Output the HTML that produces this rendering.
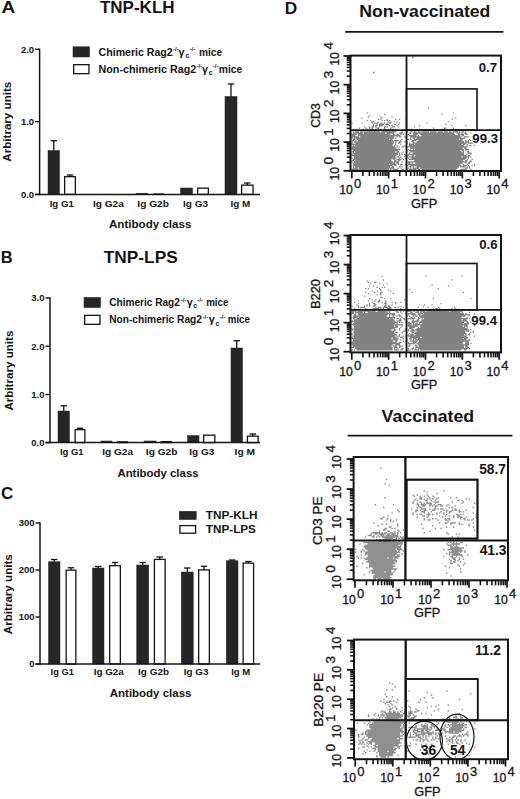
<!DOCTYPE html><html><head><meta charset="utf-8"><style>html,body{margin:0;padding:0;background:#fff}svg{display:block}</style></head><body><svg width="520" height="799" viewBox="0 0 520 799" font-family="Liberation Sans, sans-serif">
<rect width="520" height="799" fill="#fff"/>
<text x="1.5" y="12.9" font-size="16.9" font-weight="bold" text-anchor="start" textLength="13.7" lengthAdjust="spacingAndGlyphs" fill="#141414" >A</text>
<text x="99.9" y="12.6" font-size="16.5" font-weight="bold" text-anchor="start" textLength="74.7" lengthAdjust="spacingAndGlyphs" fill="#141414" >TNP-KLH</text>
<text x="0.8" y="263" font-size="16.5" font-weight="bold" text-anchor="start" fill="#141414" >B</text>
<text x="103.8" y="263.4" font-size="16.5" font-weight="bold" text-anchor="start" textLength="73.9" lengthAdjust="spacingAndGlyphs" fill="#141414" >TNP-LPS</text>
<text x="1.0" y="498.8" font-size="17" font-weight="bold" text-anchor="start" fill="#141414" >C</text>
<text x="284.8" y="13.8" font-size="17.2" font-weight="bold" text-anchor="start" fill="#141414" >D</text>
<line x1="53.75" y1="140.7" x2="53.75" y2="151.5" stroke="#141414" stroke-width="1.3"/>
<line x1="50.55" y1="140.7" x2="56.95" y2="140.7" stroke="#141414" stroke-width="1.3"/>
<rect x="48" y="150.5" width="11.5" height="43.9" fill="#262626" stroke="#262626" stroke-width="0.5"/>
<line x1="70.0" y1="175" x2="70.0" y2="177" stroke="#141414" stroke-width="1.3"/>
<line x1="66.8" y1="175" x2="73.2" y2="175" stroke="#141414" stroke-width="1.3"/>
<rect x="64.65" y="176.65" width="10.7" height="17.75" fill="#fff" stroke="#141414" stroke-width="1.3"/>
<rect x="136" y="193.2" width="11.5" height="1.2" fill="#262626" stroke="#262626" stroke-width="0.5"/>
<rect x="153.65" y="194.05" width="9.7" height="0.35" fill="#fff" stroke="#141414" stroke-width="1.3"/>
<rect x="180.5" y="188" width="12.0" height="6.4" fill="#262626" stroke="#262626" stroke-width="0.5"/>
<rect x="197.65" y="188.15" width="10.7" height="6.25" fill="#fff" stroke="#141414" stroke-width="1.3"/>
<line x1="231.0" y1="84" x2="231.0" y2="97.5" stroke="#141414" stroke-width="1.3"/>
<line x1="227.8" y1="84" x2="234.2" y2="84" stroke="#141414" stroke-width="1.3"/>
<rect x="225" y="96.5" width="12" height="97.9" fill="#262626" stroke="#262626" stroke-width="0.5"/>
<line x1="247.35" y1="183" x2="247.35" y2="185.5" stroke="#141414" stroke-width="1.3"/>
<line x1="244.15" y1="183" x2="250.54999999999998" y2="183" stroke="#141414" stroke-width="1.3"/>
<rect x="241.65" y="185.15" width="11.4" height="9.25" fill="#fff" stroke="#141414" stroke-width="1.3"/>
<line x1="39.6" y1="48.599999999999994" x2="39.6" y2="195.1" stroke="#141414" stroke-width="1.5"/>
<line x1="35.1" y1="194.4" x2="260" y2="194.4" stroke="#141414" stroke-width="1.5"/>
<line x1="35.1" y1="49.3" x2="39.6" y2="49.3" stroke="#141414" stroke-width="1.4"/>
<text x="34.1" y="52.699999999999996" font-size="9.5" font-weight="bold" text-anchor="end" fill="#141414" >2.0</text>
<line x1="35.1" y1="121.6" x2="39.6" y2="121.6" stroke="#141414" stroke-width="1.4"/>
<text x="34.1" y="125.0" font-size="9.5" font-weight="bold" text-anchor="end" fill="#141414" >1.0</text>
<line x1="35.1" y1="194.4" x2="39.6" y2="194.4" stroke="#141414" stroke-width="1.4"/>
<text x="34.1" y="197.8" font-size="9.5" font-weight="bold" text-anchor="end" fill="#141414" >0.0</text>
<text x="49.7" y="207" font-size="9.5" font-weight="bold" text-anchor="start" textLength="24.1" lengthAdjust="spacingAndGlyphs" fill="#141414" >Ig G1</text>
<text x="92.9" y="207" font-size="9.5" font-weight="bold" text-anchor="start" textLength="30.9" lengthAdjust="spacingAndGlyphs" fill="#141414" >Ig G2a</text>
<text x="137.3" y="207" font-size="9.5" font-weight="bold" text-anchor="start" textLength="31.7" lengthAdjust="spacingAndGlyphs" fill="#141414" >Ig G2b</text>
<text x="183" y="207" font-size="9.5" font-weight="bold" text-anchor="start" textLength="25" lengthAdjust="spacingAndGlyphs" fill="#141414" >Ig G3</text>
<text x="230.4" y="207" font-size="9.5" font-weight="bold" text-anchor="start" textLength="19.8" lengthAdjust="spacingAndGlyphs" fill="#141414" >Ig M</text>
<text x="109" y="227.7" font-size="10.5" font-weight="bold" text-anchor="start" textLength="82.4" lengthAdjust="spacingAndGlyphs" fill="#141414" >Antibody class</text>
<text transform="translate(11.1,121.7) rotate(-90)" font-size="10.5" font-weight="bold" text-anchor="middle" textLength="80" lengthAdjust="spacingAndGlyphs" fill="#141414">Arbitrary units</text>
<rect x="73" y="46.8" width="16.6" height="10.2" fill="#262626" stroke="#262626" stroke-width="0.5"/>
<rect x="73.65" y="64.65" width="15.3" height="9.0" fill="#fff" stroke="#141414" stroke-width="1.3"/>
<text x="98.6" y="55.8" font-size="10.4" font-weight="bold" text-anchor="start" textLength="74.1" lengthAdjust="spacingAndGlyphs" fill="#141414" >Chimeric Rag2</text>
<text x="172.9" y="51.199999999999996" font-size="6.2" font-weight="bold" text-anchor="start" fill="#141414" >-/-</text>
<text x="178.6" y="55.8" font-size="10.8" font-weight="bold" text-anchor="start" fill="#141414" >γ</text>
<text x="185.6" y="58.0" font-size="6.8" font-weight="bold" text-anchor="start" fill="#141414" >c</text>
<text x="189.8" y="51.199999999999996" font-size="6.2" font-weight="bold" text-anchor="start" fill="#141414" >-/-</text>
<text x="199" y="55.8" font-size="10.4" font-weight="bold" text-anchor="start" textLength="23.1" lengthAdjust="spacingAndGlyphs" fill="#141414" >mice</text>
<text x="98.6" y="73.0" font-size="10.4" font-weight="bold" text-anchor="start" textLength="97.6" lengthAdjust="spacingAndGlyphs" fill="#141414" >Non-chimeric Rag2</text>
<text x="196.4" y="68.4" font-size="6.2" font-weight="bold" text-anchor="start" fill="#141414" >-/-</text>
<text x="202.1" y="73.0" font-size="10.8" font-weight="bold" text-anchor="start" fill="#141414" >γ</text>
<text x="208.8" y="75.2" font-size="6.8" font-weight="bold" text-anchor="start" fill="#141414" >c</text>
<text x="212.8" y="68.4" font-size="6.2" font-weight="bold" text-anchor="start" fill="#141414" >-/-</text>
<text x="218.8" y="73.0" font-size="10.4" font-weight="bold" text-anchor="start" textLength="23.5" lengthAdjust="spacingAndGlyphs" fill="#141414" >mice</text>
<line x1="63.75" y1="405.75" x2="63.75" y2="412" stroke="#141414" stroke-width="1.3"/>
<line x1="60.55" y1="405.75" x2="66.95" y2="405.75" stroke="#141414" stroke-width="1.3"/>
<rect x="58" y="411" width="11.5" height="31.6" fill="#262626" stroke="#262626" stroke-width="0.5"/>
<line x1="80.0" y1="428.3" x2="80.0" y2="430" stroke="#141414" stroke-width="1.3"/>
<line x1="76.8" y1="428.3" x2="83.2" y2="428.3" stroke="#141414" stroke-width="1.3"/>
<rect x="75.15" y="429.65" width="9.7" height="12.95" fill="#fff" stroke="#141414" stroke-width="1.3"/>
<rect x="101" y="441" width="11" height="1.6" fill="#262626" stroke="#262626" stroke-width="0.5"/>
<rect x="117.65" y="441.85" width="9.7" height="0.75" fill="#fff" stroke="#141414" stroke-width="1.3"/>
<rect x="144" y="441" width="12" height="1.6" fill="#262626" stroke="#262626" stroke-width="0.5"/>
<rect x="161.15" y="441.65" width="10.2" height="0.95" fill="#fff" stroke="#141414" stroke-width="1.3"/>
<rect x="187.5" y="435.5" width="11.5" height="7.1" fill="#262626" stroke="#262626" stroke-width="0.5"/>
<rect x="203.65" y="435.15" width="11.2" height="7.45" fill="#fff" stroke="#141414" stroke-width="1.3"/>
<line x1="236.75" y1="340.75" x2="236.75" y2="349" stroke="#141414" stroke-width="1.3"/>
<line x1="233.55" y1="340.75" x2="239.95" y2="340.75" stroke="#141414" stroke-width="1.3"/>
<rect x="231" y="348" width="11.5" height="94.6" fill="#262626" stroke="#262626" stroke-width="0.5"/>
<line x1="252.75" y1="434" x2="252.75" y2="436.5" stroke="#141414" stroke-width="1.3"/>
<line x1="249.55" y1="434" x2="255.95" y2="434" stroke="#141414" stroke-width="1.3"/>
<rect x="247.4" y="436.15" width="10.7" height="6.45" fill="#fff" stroke="#141414" stroke-width="1.3"/>
<line x1="50" y1="297.3" x2="50" y2="443.3" stroke="#141414" stroke-width="1.5"/>
<line x1="45.5" y1="442.6" x2="260" y2="442.6" stroke="#141414" stroke-width="1.5"/>
<line x1="45.5" y1="298" x2="50" y2="298" stroke="#141414" stroke-width="1.4"/>
<text x="44.5" y="301.4" font-size="9.5" font-weight="bold" text-anchor="end" fill="#141414" >3.0</text>
<line x1="45.5" y1="346.25" x2="50" y2="346.25" stroke="#141414" stroke-width="1.4"/>
<text x="44.5" y="349.65" font-size="9.5" font-weight="bold" text-anchor="end" fill="#141414" >2.0</text>
<line x1="45.5" y1="394.5" x2="50" y2="394.5" stroke="#141414" stroke-width="1.4"/>
<text x="44.5" y="397.9" font-size="9.5" font-weight="bold" text-anchor="end" fill="#141414" >1.0</text>
<line x1="45.5" y1="442.6" x2="50" y2="442.6" stroke="#141414" stroke-width="1.4"/>
<text x="44.5" y="446.0" font-size="9.5" font-weight="bold" text-anchor="end" fill="#141414" >0.0</text>
<text x="59.9" y="455.4" font-size="9.5" font-weight="bold" text-anchor="start" textLength="23.7" lengthAdjust="spacingAndGlyphs" fill="#141414" >Ig G1</text>
<text x="102.2" y="455.4" font-size="9.5" font-weight="bold" text-anchor="start" textLength="30.8" lengthAdjust="spacingAndGlyphs" fill="#141414" >Ig G2a</text>
<text x="145.8" y="455.4" font-size="9.5" font-weight="bold" text-anchor="start" textLength="31.7" lengthAdjust="spacingAndGlyphs" fill="#141414" >Ig G2b</text>
<text x="189.3" y="455.4" font-size="9.5" font-weight="bold" text-anchor="start" textLength="25.0" lengthAdjust="spacingAndGlyphs" fill="#141414" >Ig G3</text>
<text x="234.6" y="455.4" font-size="9.5" font-weight="bold" text-anchor="start" textLength="20.3" lengthAdjust="spacingAndGlyphs" fill="#141414" >Ig M</text>
<text x="117.4" y="476.6" font-size="10.5" font-weight="bold" text-anchor="start" textLength="81.2" lengthAdjust="spacingAndGlyphs" fill="#141414" >Antibody class</text>
<text transform="translate(13.2,370.6) rotate(-90)" font-size="10.5" font-weight="bold" text-anchor="middle" textLength="80" lengthAdjust="spacingAndGlyphs" fill="#141414">Arbitrary units</text>
<rect x="84" y="297.4" width="16.6" height="10.2" fill="#262626" stroke="#262626" stroke-width="0.5"/>
<rect x="84.65" y="315.35" width="15.3" height="9.0" fill="#fff" stroke="#141414" stroke-width="1.3"/>
<text x="109.2" y="306.1" font-size="10.4" font-weight="bold" text-anchor="start" textLength="70.6" lengthAdjust="spacingAndGlyphs" fill="#141414" >Chimeric Rag2</text>
<text x="180.6" y="301.5" font-size="6.2" font-weight="bold" text-anchor="start" fill="#141414" >-/-</text>
<text x="186.8" y="306.1" font-size="10.8" font-weight="bold" text-anchor="start" fill="#141414" >γ</text>
<text x="193.2" y="308.3" font-size="6.8" font-weight="bold" text-anchor="start" fill="#141414" >c</text>
<text x="197.3" y="301.5" font-size="6.2" font-weight="bold" text-anchor="start" fill="#141414" >-/-</text>
<text x="206.2" y="306.1" font-size="10.4" font-weight="bold" text-anchor="start" textLength="22.1" lengthAdjust="spacingAndGlyphs" fill="#141414" >mice</text>
<text x="109.2" y="323.4" font-size="10.4" font-weight="bold" text-anchor="start" textLength="92.8" lengthAdjust="spacingAndGlyphs" fill="#141414" >Non-chimeric Rag2</text>
<text x="202.5" y="318.79999999999995" font-size="6.2" font-weight="bold" text-anchor="start" fill="#141414" >-/-</text>
<text x="208.8" y="323.4" font-size="10.8" font-weight="bold" text-anchor="start" fill="#141414" >γ</text>
<text x="215.4" y="325.59999999999997" font-size="6.8" font-weight="bold" text-anchor="start" fill="#141414" >c</text>
<text x="219.4" y="318.79999999999995" font-size="6.2" font-weight="bold" text-anchor="start" fill="#141414" >-/-</text>
<text x="227.7" y="323.4" font-size="10.4" font-weight="bold" text-anchor="start" textLength="22.3" lengthAdjust="spacingAndGlyphs" fill="#141414" >mice</text>
<line x1="54.25" y1="559.5" x2="54.25" y2="562.75" stroke="#141414" stroke-width="1.3"/>
<line x1="51.05" y1="559.5" x2="57.45" y2="559.5" stroke="#141414" stroke-width="1.3"/>
<rect x="48.5" y="561.75" width="11.5" height="102.25" fill="#262626" stroke="#262626" stroke-width="0.5"/>
<line x1="71.0" y1="567.75" x2="71.0" y2="570.5" stroke="#141414" stroke-width="1.3"/>
<line x1="67.8" y1="567.75" x2="74.2" y2="567.75" stroke="#141414" stroke-width="1.3"/>
<rect x="66.15" y="570.15" width="9.7" height="93.85" fill="#fff" stroke="#141414" stroke-width="1.3"/>
<line x1="98.25" y1="566.5" x2="98.25" y2="569" stroke="#141414" stroke-width="1.3"/>
<line x1="95.05" y1="566.5" x2="101.45" y2="566.5" stroke="#141414" stroke-width="1.3"/>
<rect x="92.5" y="568" width="11.5" height="96" fill="#262626" stroke="#262626" stroke-width="0.5"/>
<line x1="115.0" y1="562.5" x2="115.0" y2="566" stroke="#141414" stroke-width="1.3"/>
<line x1="111.8" y1="562.5" x2="118.2" y2="562.5" stroke="#141414" stroke-width="1.3"/>
<rect x="109.65" y="565.65" width="10.7" height="98.35" fill="#fff" stroke="#141414" stroke-width="1.3"/>
<line x1="142.75" y1="562.5" x2="142.75" y2="566" stroke="#141414" stroke-width="1.3"/>
<line x1="139.55" y1="562.5" x2="145.95" y2="562.5" stroke="#141414" stroke-width="1.3"/>
<rect x="136.75" y="565" width="12.0" height="99" fill="#262626" stroke="#262626" stroke-width="0.5"/>
<line x1="159.75" y1="557" x2="159.75" y2="559.75" stroke="#141414" stroke-width="1.3"/>
<line x1="156.55" y1="557" x2="162.95" y2="557" stroke="#141414" stroke-width="1.3"/>
<rect x="154.4" y="559.4" width="10.7" height="104.6" fill="#fff" stroke="#141414" stroke-width="1.3"/>
<line x1="187.25" y1="568" x2="187.25" y2="573" stroke="#141414" stroke-width="1.3"/>
<line x1="184.05" y1="568" x2="190.45" y2="568" stroke="#141414" stroke-width="1.3"/>
<rect x="181.25" y="572" width="12.0" height="92" fill="#262626" stroke="#262626" stroke-width="0.5"/>
<line x1="204.0" y1="566.25" x2="204.0" y2="570.25" stroke="#141414" stroke-width="1.3"/>
<line x1="200.8" y1="566.25" x2="207.2" y2="566.25" stroke="#141414" stroke-width="1.3"/>
<rect x="198.65" y="569.9" width="10.7" height="94.1" fill="#fff" stroke="#141414" stroke-width="1.3"/>
<line x1="232.125" y1="560" x2="232.125" y2="561.75" stroke="#141414" stroke-width="1.3"/>
<line x1="228.925" y1="560" x2="235.325" y2="560" stroke="#141414" stroke-width="1.3"/>
<rect x="226.25" y="560.75" width="11.75" height="103.25" fill="#262626" stroke="#262626" stroke-width="0.5"/>
<line x1="248.375" y1="561.5" x2="248.375" y2="563.5" stroke="#141414" stroke-width="1.3"/>
<line x1="245.175" y1="561.5" x2="251.575" y2="561.5" stroke="#141414" stroke-width="1.3"/>
<rect x="243.15" y="563.15" width="10.45" height="100.85" fill="#fff" stroke="#141414" stroke-width="1.3"/>
<line x1="40" y1="522.3" x2="40" y2="664.7" stroke="#141414" stroke-width="1.5"/>
<line x1="35.5" y1="664" x2="260" y2="664" stroke="#141414" stroke-width="1.5"/>
<line x1="35.5" y1="523" x2="40" y2="523" stroke="#141414" stroke-width="1.4"/>
<text x="34.5" y="526.4" font-size="9.5" font-weight="bold" text-anchor="end" fill="#141414" >300</text>
<line x1="35.5" y1="570" x2="40" y2="570" stroke="#141414" stroke-width="1.4"/>
<text x="34.5" y="573.4" font-size="9.5" font-weight="bold" text-anchor="end" fill="#141414" >200</text>
<line x1="35.5" y1="617" x2="40" y2="617" stroke="#141414" stroke-width="1.4"/>
<text x="34.5" y="620.4" font-size="9.5" font-weight="bold" text-anchor="end" fill="#141414" >100</text>
<line x1="35.5" y1="664" x2="40" y2="664" stroke="#141414" stroke-width="1.4"/>
<text x="34.5" y="667.4" font-size="9.5" font-weight="bold" text-anchor="end" fill="#141414" >0</text>
<text x="50.6" y="675.4" font-size="9.5" font-weight="bold" text-anchor="start" textLength="23.2" lengthAdjust="spacingAndGlyphs" fill="#141414" >Ig G1</text>
<text x="93.7" y="675.4" font-size="9.5" font-weight="bold" text-anchor="start" textLength="30.1" lengthAdjust="spacingAndGlyphs" fill="#141414" >Ig G2a</text>
<text x="138.1" y="675.4" font-size="9.5" font-weight="bold" text-anchor="start" textLength="30.9" lengthAdjust="spacingAndGlyphs" fill="#141414" >Ig G2b</text>
<text x="183.8" y="675.4" font-size="9.5" font-weight="bold" text-anchor="start" textLength="24.6" lengthAdjust="spacingAndGlyphs" fill="#141414" >Ig G3</text>
<text x="231.2" y="675.4" font-size="9.5" font-weight="bold" text-anchor="start" textLength="19.0" lengthAdjust="spacingAndGlyphs" fill="#141414" >Ig M</text>
<text x="109.8" y="696.6" font-size="10.5" font-weight="bold" text-anchor="start" textLength="81.6" lengthAdjust="spacingAndGlyphs" fill="#141414" >Antibody class</text>
<text transform="translate(11.7,594.2) rotate(-90)" font-size="10.5" font-weight="bold" text-anchor="middle" textLength="80" lengthAdjust="spacingAndGlyphs" fill="#141414">Arbitrary units</text>
<rect x="179.25" y="511.25" width="17" height="8.3" fill="#262626" stroke="#262626" stroke-width="0.5"/>
<rect x="179.9" y="525.6" width="15.7" height="7.6" fill="#fff" stroke="#141414" stroke-width="1.3"/>
<text x="205.75" y="519.3" font-size="10.8" font-weight="bold" text-anchor="start" textLength="51.8" lengthAdjust="spacingAndGlyphs" fill="#141414" >TNP-KLH</text>
<text x="205.75" y="533.1" font-size="10.8" font-weight="bold" text-anchor="start" textLength="50.2" lengthAdjust="spacingAndGlyphs" fill="#141414" >TNP-LPS</text>
<text x="359.2" y="17.3" font-size="16.8" font-weight="bold" text-anchor="start" textLength="131.2" lengthAdjust="spacingAndGlyphs" fill="#141414" >Non-vaccinated</text>
<line x1="345.2" y1="31.8" x2="503.4" y2="31.8" stroke="#141414" stroke-width="1.7"/>
<text x="381.6" y="421.8" font-size="16.8" font-weight="bold" text-anchor="start" textLength="92.6" lengthAdjust="spacingAndGlyphs" fill="#141414" >Vaccinated</text>
<line x1="347.6" y1="435.7" x2="512.4" y2="435.7" stroke="#141414" stroke-width="1.7"/>
<path d="M427.8 108.1h1.2M366.5 113.1h1.2M452.8 113.1h1.2M384 114.4h1.2M441.5 114.4h1.2M369 115.6h1.2M367.8 116.9h1.2M380.2 116.9h1.2M391.5 116.9h1.2M361.5 118.1h1.2M381.5 118.1h1.2M455.2 118.1h1.2M377.8 119.4h1.2M380.2 119.4h1.2M386.5 119.4h1.2M395.2 119.4h1.2M399 119.4h1.2M451.5 119.4h1.2M366.5 120.6h1.2M370.2 120.6h1.2M381.5 120.6h1.2M384 120.6h1.2M386.5 120.6h1.2M389 120.6h1.2M371.5 121.9h2.5M377.8 121.9h1.2M387.8 121.9h1.2M390.2 121.9h1.2M394 121.9h1.2M396.5 121.9h1.2M447.8 121.9h1.2M351.5 123.1h1.2M361.5 123.1h1.2M371.5 123.1h1.2M374 123.1h3.8M380.2 123.1h2.5M384 123.1h1.2M386.5 123.1h1.2M389 123.1h2.5M399 123.1h1.2M426.5 123.1h1.2M372.8 124.4h1.2M376.5 124.4h1.2M379 124.4h5M385.2 124.4h3.8M394 124.4h2.5M397.8 124.4h1.2M445.2 124.4h1.2M372.8 125.6h1.2M375.2 125.6h2.5M379 125.6h3.8M389 125.6h1.2M391.5 125.6h1.2M396.5 125.6h1.2M419 125.6h1.2M451.5 125.6h1.2M465.2 125.6h1.2M364 126.9h1.2M369 126.9h1.2M371.5 126.9h2.5M375.2 126.9h1.2M379 126.9h1.2M384 126.9h3.8M391.5 126.9h3.8M397.8 126.9h1.2M414 126.9h1.2M359 128.1h1.2M365.2 128.1h1.2M369 128.1h1.2M371.5 128.1h1.2M376.5 128.1h2.5M384 128.1h1.2M390.2 128.1h1.2M432.8 128.1h1.2M444 128.1h2.5M452.8 128.1h1.2M362.8 129.4h1.2M366.5 129.4h1.2M370.2 129.4h3.8M375.2 129.4h1.2M377.8 129.4h1.2M380.2 129.4h1.2M382.8 129.4h3.8M390.2 129.4h3.8M395.2 129.4h1.2M411.5 129.4h1.2M441.5 129.4h1.2M444 129.4h1.2M465.2 129.4h1.2M355.2 130.6h1.2M360.2 130.6h1.2M369 130.6h1.2M374 130.6h2.5M377.8 130.6h1.2M381.5 130.6h2.5M385.2 130.6h2.5M389 130.6h1.2M392.8 130.6h1.2M400.2 130.6h2.5M406.5 130.6h1.2M420.2 130.6h1.2M436.5 130.6h1.2M451.5 130.6h1.2M456.5 130.6h2.5M352.8 131.9h1.2M355.2 131.9h3.8M360.2 131.9h20M381.5 131.9h15M401.5 131.9h1.2M406.5 131.9h1.2M410.2 131.9h2.5M414 131.9h2.5M417.8 131.9h2.5M421.5 131.9h7.5M430.2 131.9h6.2M437.8 131.9h5M444 131.9h3.8M449 131.9h2.5M452.8 131.9h5M459 131.9h1.2M461.5 131.9h2.5M465.2 131.9h1.2M352.8 133.1h10M364 133.1h21.2M386.5 133.1h7.5M399 133.1h3.8M409 133.1h2.5M412.8 133.1h41.2M456.5 133.1h3.8M461.5 133.1h1.2M464 133.1h2.5M470.2 133.1h1.2M351.5 134.4h5M357.8 134.4h32.5M392.8 134.4h2.5M396.5 134.4h2.5M400.2 134.4h1.2M402.8 134.4h1.2M407.8 134.4h1.2M412.8 134.4h5M420.2 134.4h35M457.8 134.4h6.2M465.2 134.4h2.5M351.5 135.6h3.8M357.8 135.6h42.5M406.5 135.6h1.2M409 135.6h7.5M417.8 135.6h1.2M421.5 135.6h38.8M461.5 135.6h2.5M351.5 136.9h7.5M360.2 136.9h33.8M396.5 136.9h1.2M399 136.9h2.5M404 136.9h2.5M410.2 136.9h51.2M464 136.9h5M351.5 138.1h1.2M354 138.1h40M395.2 138.1h1.2M410.2 138.1h1.2M412.8 138.1h2.5M416.5 138.1h48.8M352.8 139.4h2.5M356.5 139.4h32.5M390.2 139.4h2.5M401.5 139.4h1.2M406.5 139.4h2.5M410.2 139.4h1.2M414 139.4h45M460.2 139.4h2.5M469 139.4h1.2M351.5 140.6h2.5M355.2 140.6h1.2M357.8 140.6h35M394 140.6h5M400.2 140.6h1.2M411.5 140.6h5M417.8 140.6h45M465.2 140.6h1.2M467.8 140.6h1.2M470.2 140.6h1.2M351.5 141.9h1.2M354 141.9h40M395.2 141.9h1.2M399 141.9h2.5M404 141.9h1.2M406.5 141.9h1.2M411.5 141.9h2.5M416.5 141.9h47.5M465.2 141.9h3.8M351.5 143.1h1.2M355.2 143.1h38.8M395.2 143.1h1.2M397.8 143.1h2.5M406.5 143.1h1.2M409 143.1h1.2M412.8 143.1h53.8M467.8 143.1h5M351.5 144.4h41.2M395.2 144.4h1.2M400.2 144.4h1.2M409 144.4h5M415.2 144.4h46.2M462.8 144.4h2.5M466.5 144.4h1.2M352.8 145.6h1.2M355.2 145.6h37.5M394 145.6h1.2M396.5 145.6h1.2M404 145.6h1.2M409 145.6h55M466.5 145.6h1.2M469 145.6h2.5M474 145.6h1.2M351.5 146.9h43.8M396.5 146.9h1.2M399 146.9h1.2M401.5 146.9h2.5M405.2 146.9h62.5M351.5 148.1h45M410.2 148.1h52.5M464 148.1h2.5M351.5 149.4h48.8M407.8 149.4h1.2M410.2 149.4h1.2M412.8 149.4h1.2M415.2 149.4h48.8M465.2 149.4h3.8M352.8 150.6h45M406.5 150.6h1.2M409 150.6h51.2M461.5 150.6h2.5M465.2 150.6h1.2M467.8 150.6h1.2M351.5 151.9h2.5M355.2 151.9h40M396.5 151.9h2.5M402.8 151.9h1.2M410.2 151.9h51.2M462.8 151.9h1.2M466.5 151.9h2.5M352.8 153.1h45M399 153.1h1.2M401.5 153.1h1.2M409 153.1h1.2M412.8 153.1h51.2M467.8 153.1h3.8M351.5 154.4h1.2M354 154.4h43.8M399 154.4h1.2M401.5 154.4h1.2M404 154.4h1.2M407.8 154.4h56.2M466.5 154.4h1.2M470.2 154.4h1.2M351.5 155.6h45M399 155.6h1.2M405.2 155.6h3.8M411.5 155.6h2.5M415.2 155.6h51.2M467.8 155.6h2.5M354 156.9h41.2M396.5 156.9h2.5M400.2 156.9h1.2M404 156.9h1.2M406.5 156.9h1.2M409 156.9h52.5M462.8 156.9h6.2M470.2 156.9h1.2M351.5 158.1h1.2M354 158.1h42.5M399 158.1h1.2M401.5 158.1h1.2M405.2 158.1h1.2M407.8 158.1h1.2M411.5 158.1h55M467.8 158.1h1.2M352.8 159.4h38.8M392.8 159.4h2.5M396.5 159.4h5M402.8 159.4h1.2M409 159.4h56.2M466.5 159.4h1.2M471.5 159.4h1.2M351.5 160.6h2.5M355.2 160.6h36.2M394 160.6h2.5M397.8 160.6h2.5M414 160.6h48.8M465.2 160.6h2.5M470.2 160.6h1.2M351.5 161.9h1.2M354 161.9h38.8M394 161.9h5M401.5 161.9h1.2M407.8 161.9h58.8M469 161.9h2.5M352.8 163.1h42.5M396.5 163.1h2.5M407.8 163.1h2.5M411.5 163.1h1.2M415.2 163.1h47.5M465.2 163.1h1.2M467.8 163.1h2.5M352.8 164.4h36.2M390.2 164.4h6.2M397.8 164.4h1.2M400.2 164.4h2.5M405.2 164.4h1.2M407.8 164.4h52.5M462.8 164.4h1.2M466.5 164.4h1.2M474 164.4h1.2M352.8 165.6h40M394 165.6h2.5M400.2 165.6h1.2M406.5 165.6h1.2M410.2 165.6h51.2M462.8 165.6h3.8M467.8 165.6h1.2M471.5 165.6h1.2M474 165.6h1.2M352.8 166.9h1.2M355.2 166.9h35M391.5 166.9h2.5M399 166.9h1.2M401.5 166.9h1.2M409 166.9h2.5M412.8 166.9h1.2M416.5 166.9h42.5M460.2 166.9h5M466.5 166.9h1.2M469 166.9h1.2M352.8 168.1h5M359 168.1h35M397.8 168.1h1.2M400.2 168.1h1.2M407.8 168.1h1.2M410.2 168.1h1.2M412.8 168.1h6.2M420.2 168.1h37.5M465.2 168.1h2.5M469 168.1h1.2M351.5 169.4h37.5M390.2 169.4h1.2M392.8 169.4h5M401.5 169.4h2.5M406.5 169.4h1.2M409 169.4h7.5M417.8 169.4h2.5M421.5 169.4h35M460.2 169.4h6.2M470.2 169.4h1.2" stroke="#828282" stroke-width="1.35" fill="none"/><path d="M373 72.5h1.5M412 57.5h1.5" stroke="#828282" stroke-width="1.4"/>
<rect x="350.5" y="55.6" width="150.5" height="115.4" fill="none" stroke="#141414" stroke-width="2"/>
<line x1="406.5" y1="55.6" x2="406.5" y2="171" stroke="#141414" stroke-width="1.8"/>
<line x1="350.5" y1="130.2" x2="501" y2="130.2" stroke="#141414" stroke-width="1.8"/>
<rect x="406.5" y="88.9" width="70.5" height="41.29999999999998" fill="none" stroke="#141414" stroke-width="1.6"/>
<g stroke="#141414" stroke-width="0.3">
<line x1="351.8" y1="171" x2="351.8" y2="178.4" stroke="#141414" stroke-width="1.7"/>
<line x1="343.5" y1="170.8" x2="350.5" y2="170.8" stroke="#141414" stroke-width="1.8"/>
<line x1="362.9" y1="171" x2="362.9" y2="176" stroke="#141414" stroke-width="1.6"/>
<line x1="346.7" y1="162.2" x2="350.5" y2="162.2" stroke="#141414" stroke-width="1.6"/>
<line x1="369.4" y1="171" x2="369.4" y2="176" stroke="#141414" stroke-width="1.6"/>
<line x1="346.7" y1="157.1" x2="350.5" y2="157.1" stroke="#141414" stroke-width="1.6"/>
<line x1="374.0" y1="171" x2="374.0" y2="176" stroke="#141414" stroke-width="1.6"/>
<line x1="346.7" y1="153.5" x2="350.5" y2="153.5" stroke="#141414" stroke-width="1.6"/>
<line x1="377.6" y1="171" x2="377.6" y2="176" stroke="#141414" stroke-width="1.6"/>
<line x1="346.7" y1="150.7" x2="350.5" y2="150.7" stroke="#141414" stroke-width="1.6"/>
<line x1="380.5" y1="171" x2="380.5" y2="176" stroke="#141414" stroke-width="1.6"/>
<line x1="346.7" y1="148.5" x2="350.5" y2="148.5" stroke="#141414" stroke-width="1.6"/>
<line x1="382.9" y1="171" x2="382.9" y2="176" stroke="#141414" stroke-width="1.6"/>
<line x1="346.7" y1="146.5" x2="350.5" y2="146.5" stroke="#141414" stroke-width="1.6"/>
<line x1="385.1" y1="171" x2="385.1" y2="176" stroke="#141414" stroke-width="1.6"/>
<line x1="346.7" y1="144.9" x2="350.5" y2="144.9" stroke="#141414" stroke-width="1.6"/>
<line x1="387.0" y1="171" x2="387.0" y2="176" stroke="#141414" stroke-width="1.6"/>
<line x1="346.7" y1="143.4" x2="350.5" y2="143.4" stroke="#141414" stroke-width="1.6"/>
<text x="352.7" y="194.2" font-size="12.2" text-anchor="end" fill="#141414">10</text>
<text x="353.9" y="188.2" font-size="13" fill="#141414">0</text>
<text transform="translate(338.6,180.5) rotate(-90)" font-size="12.2" fill="#141414">10</text>
<text transform="translate(332.6,164.4) rotate(-90)" font-size="13.5" fill="#141414">0</text>
<line x1="388.65" y1="171" x2="388.65" y2="178.4" stroke="#141414" stroke-width="1.7"/>
<line x1="343.5" y1="142.10000000000002" x2="350.5" y2="142.10000000000002" stroke="#141414" stroke-width="1.8"/>
<line x1="399.7" y1="171" x2="399.7" y2="176" stroke="#141414" stroke-width="1.6"/>
<line x1="346.7" y1="133.5" x2="350.5" y2="133.5" stroke="#141414" stroke-width="1.6"/>
<line x1="406.2" y1="171" x2="406.2" y2="176" stroke="#141414" stroke-width="1.6"/>
<line x1="346.7" y1="128.4" x2="350.5" y2="128.4" stroke="#141414" stroke-width="1.6"/>
<line x1="410.8" y1="171" x2="410.8" y2="176" stroke="#141414" stroke-width="1.6"/>
<line x1="346.7" y1="124.8" x2="350.5" y2="124.8" stroke="#141414" stroke-width="1.6"/>
<line x1="414.4" y1="171" x2="414.4" y2="176" stroke="#141414" stroke-width="1.6"/>
<line x1="346.7" y1="122.0" x2="350.5" y2="122.0" stroke="#141414" stroke-width="1.6"/>
<line x1="417.3" y1="171" x2="417.3" y2="176" stroke="#141414" stroke-width="1.6"/>
<line x1="346.7" y1="119.8" x2="350.5" y2="119.8" stroke="#141414" stroke-width="1.6"/>
<line x1="419.8" y1="171" x2="419.8" y2="176" stroke="#141414" stroke-width="1.6"/>
<line x1="346.7" y1="117.8" x2="350.5" y2="117.8" stroke="#141414" stroke-width="1.6"/>
<line x1="421.9" y1="171" x2="421.9" y2="176" stroke="#141414" stroke-width="1.6"/>
<line x1="346.7" y1="116.2" x2="350.5" y2="116.2" stroke="#141414" stroke-width="1.6"/>
<line x1="423.8" y1="171" x2="423.8" y2="176" stroke="#141414" stroke-width="1.6"/>
<line x1="346.7" y1="114.7" x2="350.5" y2="114.7" stroke="#141414" stroke-width="1.6"/>
<text x="389.5" y="194.2" font-size="12.2" text-anchor="end" fill="#141414">10</text>
<text x="390.8" y="188.2" font-size="13" fill="#141414">1</text>
<text transform="translate(338.6,151.8) rotate(-90)" font-size="12.2" fill="#141414">10</text>
<text transform="translate(332.6,135.7) rotate(-90)" font-size="13.5" fill="#141414">1</text>
<line x1="425.5" y1="171" x2="425.5" y2="178.4" stroke="#141414" stroke-width="1.7"/>
<line x1="343.5" y1="113.4" x2="350.5" y2="113.4" stroke="#141414" stroke-width="1.8"/>
<line x1="436.6" y1="171" x2="436.6" y2="176" stroke="#141414" stroke-width="1.6"/>
<line x1="346.7" y1="104.8" x2="350.5" y2="104.8" stroke="#141414" stroke-width="1.6"/>
<line x1="443.1" y1="171" x2="443.1" y2="176" stroke="#141414" stroke-width="1.6"/>
<line x1="346.7" y1="99.7" x2="350.5" y2="99.7" stroke="#141414" stroke-width="1.6"/>
<line x1="447.7" y1="171" x2="447.7" y2="176" stroke="#141414" stroke-width="1.6"/>
<line x1="346.7" y1="96.1" x2="350.5" y2="96.1" stroke="#141414" stroke-width="1.6"/>
<line x1="451.3" y1="171" x2="451.3" y2="176" stroke="#141414" stroke-width="1.6"/>
<line x1="346.7" y1="93.3" x2="350.5" y2="93.3" stroke="#141414" stroke-width="1.6"/>
<line x1="454.2" y1="171" x2="454.2" y2="176" stroke="#141414" stroke-width="1.6"/>
<line x1="346.7" y1="91.1" x2="350.5" y2="91.1" stroke="#141414" stroke-width="1.6"/>
<line x1="456.6" y1="171" x2="456.6" y2="176" stroke="#141414" stroke-width="1.6"/>
<line x1="346.7" y1="89.1" x2="350.5" y2="89.1" stroke="#141414" stroke-width="1.6"/>
<line x1="458.8" y1="171" x2="458.8" y2="176" stroke="#141414" stroke-width="1.6"/>
<line x1="346.7" y1="87.5" x2="350.5" y2="87.5" stroke="#141414" stroke-width="1.6"/>
<line x1="460.7" y1="171" x2="460.7" y2="176" stroke="#141414" stroke-width="1.6"/>
<line x1="346.7" y1="86.0" x2="350.5" y2="86.0" stroke="#141414" stroke-width="1.6"/>
<text x="426.4" y="194.2" font-size="12.2" text-anchor="end" fill="#141414">10</text>
<text x="427.6" y="188.2" font-size="13" fill="#141414">2</text>
<text transform="translate(338.6,123.1) rotate(-90)" font-size="12.2" fill="#141414">10</text>
<text transform="translate(332.6,107.0) rotate(-90)" font-size="13.5" fill="#141414">2</text>
<line x1="462.35" y1="171" x2="462.35" y2="178.4" stroke="#141414" stroke-width="1.7"/>
<line x1="343.5" y1="84.7" x2="350.5" y2="84.7" stroke="#141414" stroke-width="1.8"/>
<line x1="473.4" y1="171" x2="473.4" y2="176" stroke="#141414" stroke-width="1.6"/>
<line x1="346.7" y1="76.1" x2="350.5" y2="76.1" stroke="#141414" stroke-width="1.6"/>
<line x1="479.9" y1="171" x2="479.9" y2="176" stroke="#141414" stroke-width="1.6"/>
<line x1="346.7" y1="71.0" x2="350.5" y2="71.0" stroke="#141414" stroke-width="1.6"/>
<line x1="484.5" y1="171" x2="484.5" y2="176" stroke="#141414" stroke-width="1.6"/>
<line x1="346.7" y1="67.4" x2="350.5" y2="67.4" stroke="#141414" stroke-width="1.6"/>
<line x1="488.1" y1="171" x2="488.1" y2="176" stroke="#141414" stroke-width="1.6"/>
<line x1="346.7" y1="64.6" x2="350.5" y2="64.6" stroke="#141414" stroke-width="1.6"/>
<line x1="491.0" y1="171" x2="491.0" y2="176" stroke="#141414" stroke-width="1.6"/>
<line x1="346.7" y1="62.4" x2="350.5" y2="62.4" stroke="#141414" stroke-width="1.6"/>
<line x1="493.5" y1="171" x2="493.5" y2="176" stroke="#141414" stroke-width="1.6"/>
<line x1="346.7" y1="60.4" x2="350.5" y2="60.4" stroke="#141414" stroke-width="1.6"/>
<line x1="495.6" y1="171" x2="495.6" y2="176" stroke="#141414" stroke-width="1.6"/>
<line x1="346.7" y1="58.8" x2="350.5" y2="58.8" stroke="#141414" stroke-width="1.6"/>
<line x1="497.5" y1="171" x2="497.5" y2="176" stroke="#141414" stroke-width="1.6"/>
<line x1="346.7" y1="57.3" x2="350.5" y2="57.3" stroke="#141414" stroke-width="1.6"/>
<text x="463.2" y="194.2" font-size="12.2" text-anchor="end" fill="#141414">10</text>
<text x="464.5" y="188.2" font-size="13" fill="#141414">3</text>
<text transform="translate(338.6,94.4) rotate(-90)" font-size="12.2" fill="#141414">10</text>
<text transform="translate(332.6,78.3) rotate(-90)" font-size="13.5" fill="#141414">3</text>
<line x1="499.2" y1="171" x2="499.2" y2="178.4" stroke="#141414" stroke-width="1.7"/>
<line x1="343.5" y1="56.0" x2="350.5" y2="56.0" stroke="#141414" stroke-width="1.8"/>
<text x="500.1" y="194.2" font-size="12.2" text-anchor="end" fill="#141414">10</text>
<text x="501.3" y="188.2" font-size="13" fill="#141414">4</text>
<text transform="translate(338.6,65.7) rotate(-90)" font-size="12.2" fill="#141414">10</text>
<text transform="translate(332.6,49.6) rotate(-90)" font-size="13.5" fill="#141414">4</text>
<text x="410.90000000000003" y="207.9" font-size="12.8" text-anchor="start" textLength="26.3" lengthAdjust="spacingAndGlyphs" fill="#141414" >GFP</text>
<text transform="translate(320.3,115.55) rotate(-90)" font-size="12" text-anchor="middle" textLength="24.5" lengthAdjust="spacingAndGlyphs" fill="#141414">CD3</text>
</g>
<text x="497" y="71.6" font-size="13.2" font-weight="bold" text-anchor="end" fill="#141414" >0.7</text>
<text x="498" y="142.6" font-size="13.2" font-weight="bold" text-anchor="end" fill="#141414" >99.3</text>
<path d="M381.5 276.1h1.2M425.2 276.1h1.2M461.5 276.1h1.2M382.8 279.9h1.2M451.5 279.9h1.2M366.5 281.1h1.2M367.8 282.4h1.2M374 282.4h2.5M370.2 283.6h1.2M379 283.6h1.2M386.5 283.6h1.2M382.8 284.9h1.2M431.5 284.9h1.2M369 286.1h1.2M372.8 286.1h1.2M447.8 286.1h1.2M376.5 287.4h1.2M381.5 287.4h1.2M384 287.4h1.2M365.2 288.6h1.2M367.8 288.6h1.2M379 288.6h1.2M437.8 288.6h1.2M380.2 289.9h1.2M387.8 289.9h1.2M409 289.9h1.2M371.5 291.1h1.2M376.5 291.1h1.2M390.2 291.1h1.2M365.2 292.4h1.2M374 292.4h1.2M380.2 292.4h2.5M411.5 292.4h1.2M462.8 292.4h1.2M367.8 293.6h1.2M380.2 293.6h1.2M392.8 293.6h1.2M376.5 294.9h1.2M380.2 294.9h1.2M364 296.1h1.2M380.2 297.4h2.5M369 298.6h1.2M384 298.6h1.2M390.2 298.6h1.2M432.8 298.6h1.2M470.2 298.6h1.2M371.5 299.9h1.2M375.2 299.9h1.2M379 299.9h1.2M404 299.9h1.2M357.8 301.1h1.2M367.8 301.1h1.2M374 301.1h1.2M377.8 301.1h2.5M385.2 301.1h1.2M354 302.4h1.2M371.5 302.4h1.2M377.8 302.4h1.2M381.5 302.4h1.2M385.2 302.4h1.2M391.5 302.4h1.2M395.2 302.4h1.2M400.2 302.4h1.2M357.8 303.6h1.2M369 303.6h1.2M372.8 303.6h2.5M384 303.6h2.5M395.2 303.6h1.2M440.2 303.6h1.2M356.5 304.9h1.2M366.5 304.9h1.2M369 304.9h1.2M374 304.9h2.5M385.2 304.9h1.2M391.5 304.9h1.2M424 304.9h1.2M431.5 304.9h1.2M351.5 306.1h1.2M357.8 306.1h1.2M364 306.1h1.2M366.5 306.1h1.2M369 306.1h1.2M372.8 306.1h2.5M384 306.1h2.5M387.8 306.1h2.5M400.2 306.1h1.2M422.8 306.1h1.2M357.8 307.4h1.2M360.2 307.4h5M375.2 307.4h1.2M377.8 307.4h3.8M382.8 307.4h5M389 307.4h2.5M394 307.4h2.5M397.8 307.4h1.2M402.8 307.4h1.2M417.8 307.4h1.2M427.8 307.4h1.2M437.8 307.4h1.2M454 307.4h1.2M354 308.6h1.2M365.2 308.6h1.2M372.8 308.6h6.2M380.2 308.6h1.2M382.8 308.6h1.2M386.5 308.6h5M400.2 308.6h1.2M435.2 308.6h2.5M439 308.6h1.2M451.5 308.6h1.2M455.2 308.6h1.2M367.8 309.9h1.2M374 309.9h1.2M377.8 309.9h17.5M409 309.9h1.2M431.5 309.9h1.2M442.8 309.9h1.2M461.5 309.9h1.2M351.5 311.1h5M357.8 311.1h17.5M377.8 311.1h8.8M387.8 311.1h2.5M395.2 311.1h2.5M400.2 311.1h1.2M402.8 311.1h1.2M406.5 311.1h5M412.8 311.1h2.5M416.5 311.1h2.5M420.2 311.1h5M426.5 311.1h22.5M450.2 311.1h12.5M351.5 312.4h2.5M355.2 312.4h7.5M364 312.4h1.2M367.8 312.4h20M389 312.4h1.2M396.5 312.4h2.5M400.2 312.4h1.2M405.2 312.4h1.2M410.2 312.4h2.5M415.2 312.4h3.8M420.2 312.4h1.2M422.8 312.4h37.5M461.5 312.4h1.2M469 312.4h1.2M351.5 313.6h2.5M355.2 313.6h1.2M357.8 313.6h37.5M401.5 313.6h1.2M405.2 313.6h1.2M407.8 313.6h7.5M417.8 313.6h5M424 313.6h40M465.2 313.6h1.2M474 313.6h1.2M354 314.9h2.5M357.8 314.9h30M389 314.9h1.2M391.5 314.9h3.8M397.8 314.9h2.5M407.8 314.9h1.2M411.5 314.9h5M417.8 314.9h2.5M421.5 314.9h48.8M352.8 316.1h33.8M389 316.1h1.2M392.8 316.1h1.2M396.5 316.1h1.2M399 316.1h2.5M406.5 316.1h1.2M409 316.1h1.2M412.8 316.1h1.2M415.2 316.1h2.5M419 316.1h46.2M352.8 317.4h5M359 317.4h36.2M401.5 317.4h1.2M410.2 317.4h2.5M414 317.4h1.2M417.8 317.4h1.2M420.2 317.4h41.2M466.5 317.4h1.2M352.8 318.6h2.5M356.5 318.6h32.5M390.2 318.6h2.5M394 318.6h1.2M396.5 318.6h2.5M400.2 318.6h1.2M402.8 318.6h2.5M407.8 318.6h7.5M417.8 318.6h2.5M421.5 318.6h1.2M424 318.6h43.8M469 318.6h1.2M354 319.9h40M399 319.9h2.5M404 319.9h1.2M412.8 319.9h1.2M416.5 319.9h2.5M421.5 319.9h40M462.8 319.9h3.8M351.5 321.1h43.8M396.5 321.1h5M406.5 321.1h1.2M411.5 321.1h7.5M420.2 321.1h47.5M351.5 322.4h1.2M354 322.4h43.8M399 322.4h1.2M401.5 322.4h1.2M405.2 322.4h1.2M407.8 322.4h2.5M411.5 322.4h3.8M416.5 322.4h1.2M419 322.4h45M466.5 322.4h2.5M470.2 322.4h1.2M352.8 323.6h42.5M396.5 323.6h1.2M407.8 323.6h3.8M412.8 323.6h1.2M415.2 323.6h2.5M419 323.6h1.2M421.5 323.6h41.2M464 323.6h5M351.5 324.9h51.2M407.8 324.9h3.8M412.8 324.9h55M474 324.9h1.2M354 326.1h40M395.2 326.1h2.5M401.5 326.1h1.2M407.8 326.1h10M420.2 326.1h42.5M464 326.1h3.8M474 326.1h1.2M354 327.4h43.8M400.2 327.4h1.2M409 327.4h6.2M417.8 327.4h1.2M420.2 327.4h45M466.5 327.4h1.2M351.5 328.6h1.2M354 328.6h41.2M399 328.6h1.2M405.2 328.6h1.2M409 328.6h3.8M416.5 328.6h51.2M351.5 329.9h40M394 329.9h2.5M399 329.9h1.2M405.2 329.9h1.2M407.8 329.9h1.2M411.5 329.9h2.5M415.2 329.9h53.8M470.2 329.9h1.2M354 331.1h41.2M402.8 331.1h2.5M407.8 331.1h1.2M410.2 331.1h5M416.5 331.1h48.8M466.5 331.1h2.5M472.8 331.1h1.2M352.8 332.4h41.2M395.2 332.4h2.5M401.5 332.4h1.2M406.5 332.4h1.2M411.5 332.4h2.5M415.2 332.4h50M470.2 332.4h1.2M472.8 332.4h1.2M351.5 333.6h1.2M354 333.6h41.2M401.5 333.6h1.2M409 333.6h1.2M411.5 333.6h1.2M414 333.6h52.5M469 333.6h1.2M351.5 334.9h1.2M354 334.9h42.5M399 334.9h1.2M407.8 334.9h1.2M410.2 334.9h3.8M415.2 334.9h48.8M465.2 334.9h1.2M467.8 334.9h2.5M352.8 336.1h42.5M396.5 336.1h3.8M402.8 336.1h1.2M405.2 336.1h1.2M407.8 336.1h58.8M474 336.1h1.2M351.5 337.4h1.2M354 337.4h42.5M400.2 337.4h2.5M410.2 337.4h10M421.5 337.4h46.2M351.5 338.6h40M392.8 338.6h6.2M402.8 338.6h1.2M409 338.6h2.5M412.8 338.6h3.8M417.8 338.6h45M464 338.6h3.8M352.8 339.9h45M400.2 339.9h1.2M406.5 339.9h1.2M410.2 339.9h1.2M412.8 339.9h1.2M415.2 339.9h51.2M467.8 339.9h2.5M352.8 341.1h40M395.2 341.1h2.5M402.8 341.1h1.2M405.2 341.1h1.2M410.2 341.1h7.5M419 341.1h50M351.5 342.4h45M399 342.4h2.5M407.8 342.4h1.2M412.8 342.4h3.8M417.8 342.4h45M465.2 342.4h3.8M351.5 343.6h48.8M407.8 343.6h7.5M416.5 343.6h46.2M465.2 343.6h3.8M470.2 343.6h1.2M351.5 344.9h41.2M395.2 344.9h5M409 344.9h1.2M415.2 344.9h1.2M417.8 344.9h51.2M352.8 346.1h38.8M392.8 346.1h3.8M399 346.1h3.8M407.8 346.1h2.5M415.2 346.1h2.5M419 346.1h45M465.2 346.1h2.5M351.5 347.4h2.5M355.2 347.4h37.5M394 347.4h3.8M399 347.4h1.2M412.8 347.4h1.2M415.2 347.4h48.8M465.2 347.4h3.8M355.2 348.6h37.5M394 348.6h1.2M396.5 348.6h1.2M401.5 348.6h2.5M407.8 348.6h1.2M411.5 348.6h2.5M415.2 348.6h1.2M417.8 348.6h50M469 348.6h1.2M351.5 349.9h1.2M354 349.9h1.2M356.5 349.9h36.2M394 349.9h5M400.2 349.9h2.5M406.5 349.9h3.8M411.5 349.9h1.2M414 349.9h5M420.2 349.9h41.2M464 349.9h2.5" stroke="#828282" stroke-width="1.35" fill="none"/>
<rect x="350.5" y="235" width="150.5" height="117.39999999999998" fill="none" stroke="#141414" stroke-width="2"/>
<line x1="406.5" y1="235" x2="406.5" y2="352.4" stroke="#141414" stroke-width="1.8"/>
<line x1="350.5" y1="309.8" x2="501" y2="309.8" stroke="#141414" stroke-width="1.8"/>
<rect x="406.5" y="263.5" width="70.5" height="46.30000000000001" fill="none" stroke="#141414" stroke-width="1.6"/>
<g stroke="#141414" stroke-width="0.3">
<line x1="351.8" y1="352.4" x2="351.8" y2="359.79999999999995" stroke="#141414" stroke-width="1.7"/>
<line x1="343.5" y1="351.7" x2="350.5" y2="351.7" stroke="#141414" stroke-width="1.8"/>
<line x1="362.9" y1="352.4" x2="362.9" y2="357.4" stroke="#141414" stroke-width="1.6"/>
<line x1="346.7" y1="343.0" x2="350.5" y2="343.0" stroke="#141414" stroke-width="1.6"/>
<line x1="369.4" y1="352.4" x2="369.4" y2="357.4" stroke="#141414" stroke-width="1.6"/>
<line x1="346.7" y1="337.8" x2="350.5" y2="337.8" stroke="#141414" stroke-width="1.6"/>
<line x1="374.0" y1="352.4" x2="374.0" y2="357.4" stroke="#141414" stroke-width="1.6"/>
<line x1="346.7" y1="334.2" x2="350.5" y2="334.2" stroke="#141414" stroke-width="1.6"/>
<line x1="377.6" y1="352.4" x2="377.6" y2="357.4" stroke="#141414" stroke-width="1.6"/>
<line x1="346.7" y1="331.4" x2="350.5" y2="331.4" stroke="#141414" stroke-width="1.6"/>
<line x1="380.5" y1="352.4" x2="380.5" y2="357.4" stroke="#141414" stroke-width="1.6"/>
<line x1="346.7" y1="329.1" x2="350.5" y2="329.1" stroke="#141414" stroke-width="1.6"/>
<line x1="382.9" y1="352.4" x2="382.9" y2="357.4" stroke="#141414" stroke-width="1.6"/>
<line x1="346.7" y1="327.1" x2="350.5" y2="327.1" stroke="#141414" stroke-width="1.6"/>
<line x1="385.1" y1="352.4" x2="385.1" y2="357.4" stroke="#141414" stroke-width="1.6"/>
<line x1="346.7" y1="325.5" x2="350.5" y2="325.5" stroke="#141414" stroke-width="1.6"/>
<line x1="387.0" y1="352.4" x2="387.0" y2="357.4" stroke="#141414" stroke-width="1.6"/>
<line x1="346.7" y1="324.0" x2="350.5" y2="324.0" stroke="#141414" stroke-width="1.6"/>
<text x="352.7" y="375.6" font-size="12.2" text-anchor="end" fill="#141414">10</text>
<text x="353.9" y="369.6" font-size="13" fill="#141414">0</text>
<text transform="translate(338.6,361.4) rotate(-90)" font-size="12.2" fill="#141414">10</text>
<text transform="translate(332.6,345.3) rotate(-90)" font-size="13.5" fill="#141414">0</text>
<line x1="388.65" y1="352.4" x2="388.65" y2="359.79999999999995" stroke="#141414" stroke-width="1.7"/>
<line x1="343.5" y1="322.65" x2="350.5" y2="322.65" stroke="#141414" stroke-width="1.8"/>
<line x1="399.7" y1="352.4" x2="399.7" y2="357.4" stroke="#141414" stroke-width="1.6"/>
<line x1="346.7" y1="313.9" x2="350.5" y2="313.9" stroke="#141414" stroke-width="1.6"/>
<line x1="406.2" y1="352.4" x2="406.2" y2="357.4" stroke="#141414" stroke-width="1.6"/>
<line x1="346.7" y1="308.8" x2="350.5" y2="308.8" stroke="#141414" stroke-width="1.6"/>
<line x1="410.8" y1="352.4" x2="410.8" y2="357.4" stroke="#141414" stroke-width="1.6"/>
<line x1="346.7" y1="305.2" x2="350.5" y2="305.2" stroke="#141414" stroke-width="1.6"/>
<line x1="414.4" y1="352.4" x2="414.4" y2="357.4" stroke="#141414" stroke-width="1.6"/>
<line x1="346.7" y1="302.3" x2="350.5" y2="302.3" stroke="#141414" stroke-width="1.6"/>
<line x1="417.3" y1="352.4" x2="417.3" y2="357.4" stroke="#141414" stroke-width="1.6"/>
<line x1="346.7" y1="300.0" x2="350.5" y2="300.0" stroke="#141414" stroke-width="1.6"/>
<line x1="419.8" y1="352.4" x2="419.8" y2="357.4" stroke="#141414" stroke-width="1.6"/>
<line x1="346.7" y1="298.1" x2="350.5" y2="298.1" stroke="#141414" stroke-width="1.6"/>
<line x1="421.9" y1="352.4" x2="421.9" y2="357.4" stroke="#141414" stroke-width="1.6"/>
<line x1="346.7" y1="296.4" x2="350.5" y2="296.4" stroke="#141414" stroke-width="1.6"/>
<line x1="423.8" y1="352.4" x2="423.8" y2="357.4" stroke="#141414" stroke-width="1.6"/>
<line x1="346.7" y1="294.9" x2="350.5" y2="294.9" stroke="#141414" stroke-width="1.6"/>
<text x="389.5" y="375.6" font-size="12.2" text-anchor="end" fill="#141414">10</text>
<text x="390.8" y="369.6" font-size="13" fill="#141414">1</text>
<text transform="translate(338.6,332.3) rotate(-90)" font-size="12.2" fill="#141414">10</text>
<text transform="translate(332.6,316.2) rotate(-90)" font-size="13.5" fill="#141414">1</text>
<line x1="425.5" y1="352.4" x2="425.5" y2="359.79999999999995" stroke="#141414" stroke-width="1.7"/>
<line x1="343.5" y1="293.6" x2="350.5" y2="293.6" stroke="#141414" stroke-width="1.8"/>
<line x1="436.6" y1="352.4" x2="436.6" y2="357.4" stroke="#141414" stroke-width="1.6"/>
<line x1="346.7" y1="284.9" x2="350.5" y2="284.9" stroke="#141414" stroke-width="1.6"/>
<line x1="443.1" y1="352.4" x2="443.1" y2="357.4" stroke="#141414" stroke-width="1.6"/>
<line x1="346.7" y1="279.7" x2="350.5" y2="279.7" stroke="#141414" stroke-width="1.6"/>
<line x1="447.7" y1="352.4" x2="447.7" y2="357.4" stroke="#141414" stroke-width="1.6"/>
<line x1="346.7" y1="276.1" x2="350.5" y2="276.1" stroke="#141414" stroke-width="1.6"/>
<line x1="451.3" y1="352.4" x2="451.3" y2="357.4" stroke="#141414" stroke-width="1.6"/>
<line x1="346.7" y1="273.3" x2="350.5" y2="273.3" stroke="#141414" stroke-width="1.6"/>
<line x1="454.2" y1="352.4" x2="454.2" y2="357.4" stroke="#141414" stroke-width="1.6"/>
<line x1="346.7" y1="271.0" x2="350.5" y2="271.0" stroke="#141414" stroke-width="1.6"/>
<line x1="456.6" y1="352.4" x2="456.6" y2="357.4" stroke="#141414" stroke-width="1.6"/>
<line x1="346.7" y1="269.0" x2="350.5" y2="269.0" stroke="#141414" stroke-width="1.6"/>
<line x1="458.8" y1="352.4" x2="458.8" y2="357.4" stroke="#141414" stroke-width="1.6"/>
<line x1="346.7" y1="267.4" x2="350.5" y2="267.4" stroke="#141414" stroke-width="1.6"/>
<line x1="460.7" y1="352.4" x2="460.7" y2="357.4" stroke="#141414" stroke-width="1.6"/>
<line x1="346.7" y1="265.9" x2="350.5" y2="265.9" stroke="#141414" stroke-width="1.6"/>
<text x="426.4" y="375.6" font-size="12.2" text-anchor="end" fill="#141414">10</text>
<text x="427.6" y="369.6" font-size="13" fill="#141414">2</text>
<text transform="translate(338.6,303.3) rotate(-90)" font-size="12.2" fill="#141414">10</text>
<text transform="translate(332.6,287.2) rotate(-90)" font-size="13.5" fill="#141414">2</text>
<line x1="462.35" y1="352.4" x2="462.35" y2="359.79999999999995" stroke="#141414" stroke-width="1.7"/>
<line x1="343.5" y1="264.55" x2="350.5" y2="264.55" stroke="#141414" stroke-width="1.8"/>
<line x1="473.4" y1="352.4" x2="473.4" y2="357.4" stroke="#141414" stroke-width="1.6"/>
<line x1="346.7" y1="255.8" x2="350.5" y2="255.8" stroke="#141414" stroke-width="1.6"/>
<line x1="479.9" y1="352.4" x2="479.9" y2="357.4" stroke="#141414" stroke-width="1.6"/>
<line x1="346.7" y1="250.7" x2="350.5" y2="250.7" stroke="#141414" stroke-width="1.6"/>
<line x1="484.5" y1="352.4" x2="484.5" y2="357.4" stroke="#141414" stroke-width="1.6"/>
<line x1="346.7" y1="247.1" x2="350.5" y2="247.1" stroke="#141414" stroke-width="1.6"/>
<line x1="488.1" y1="352.4" x2="488.1" y2="357.4" stroke="#141414" stroke-width="1.6"/>
<line x1="346.7" y1="244.2" x2="350.5" y2="244.2" stroke="#141414" stroke-width="1.6"/>
<line x1="491.0" y1="352.4" x2="491.0" y2="357.4" stroke="#141414" stroke-width="1.6"/>
<line x1="346.7" y1="241.9" x2="350.5" y2="241.9" stroke="#141414" stroke-width="1.6"/>
<line x1="493.5" y1="352.4" x2="493.5" y2="357.4" stroke="#141414" stroke-width="1.6"/>
<line x1="346.7" y1="240.0" x2="350.5" y2="240.0" stroke="#141414" stroke-width="1.6"/>
<line x1="495.6" y1="352.4" x2="495.6" y2="357.4" stroke="#141414" stroke-width="1.6"/>
<line x1="346.7" y1="238.3" x2="350.5" y2="238.3" stroke="#141414" stroke-width="1.6"/>
<line x1="497.5" y1="352.4" x2="497.5" y2="357.4" stroke="#141414" stroke-width="1.6"/>
<line x1="346.7" y1="236.8" x2="350.5" y2="236.8" stroke="#141414" stroke-width="1.6"/>
<text x="463.2" y="375.6" font-size="12.2" text-anchor="end" fill="#141414">10</text>
<text x="464.5" y="369.6" font-size="13" fill="#141414">3</text>
<text transform="translate(338.6,274.2) rotate(-90)" font-size="12.2" fill="#141414">10</text>
<text transform="translate(332.6,258.2) rotate(-90)" font-size="13.5" fill="#141414">3</text>
<line x1="499.2" y1="352.4" x2="499.2" y2="359.79999999999995" stroke="#141414" stroke-width="1.7"/>
<line x1="343.5" y1="235.5" x2="350.5" y2="235.5" stroke="#141414" stroke-width="1.8"/>
<text x="500.1" y="375.6" font-size="12.2" text-anchor="end" fill="#141414">10</text>
<text x="501.3" y="369.6" font-size="13" fill="#141414">4</text>
<text transform="translate(338.6,245.2) rotate(-90)" font-size="12.2" fill="#141414">10</text>
<text transform="translate(332.6,229.1) rotate(-90)" font-size="13.5" fill="#141414">4</text>
<text x="410.90000000000003" y="389.29999999999995" font-size="12.8" text-anchor="start" textLength="26.3" lengthAdjust="spacingAndGlyphs" fill="#141414" >GFP</text>
<text transform="translate(320.3,294.0) rotate(-90)" font-size="12" text-anchor="middle" textLength="30" lengthAdjust="spacingAndGlyphs" fill="#141414">B220</text>
</g>
<text x="497.5" y="248.7" font-size="13.2" font-weight="bold" text-anchor="end" fill="#141414" >0.6</text>
<text x="497" y="325.4" font-size="13.2" font-weight="bold" text-anchor="end" fill="#141414" >99.4</text>
<path d="M380.2 468.3h1.4M385.8 479.5h1.4M384.4 483.7h1.4M388.6 485.1h1.4M423.6 490.7h1.4M443.2 490.7h1.4M426.4 492.1h1.4M436.2 493.5h1.4M412.4 494.9h1.4M416.6 494.9h1.4M426.4 494.9h1.4M413.8 496.3h1.4M419.4 496.3h1.4M423.6 496.3h1.4M427.8 496.3h1.4M432 496.3h1.4M384.4 497.7h1.4M419.4 497.7h2.8M429.2 497.7h1.4M433.4 497.7h1.4M437.6 497.7h1.4M450.2 497.7h1.4M455.8 497.7h1.4M415.2 499.1h1.4M419.4 499.1h2.8M423.6 499.1h1.4M426.4 499.1h1.4M429.2 499.1h1.4M432 499.1h1.4M436.2 499.1h1.4M465.6 499.1h1.4M468.4 499.1h1.4M413.8 500.5h1.4M416.6 500.5h1.4M425 500.5h2.8M430.6 500.5h1.4M434.8 500.5h1.4M457.2 500.5h2.8M461.4 500.5h1.4M412.4 501.9h1.4M419.4 501.9h1.4M426.4 501.9h1.4M433.4 501.9h1.4M436.2 501.9h2.8M451.6 501.9h1.4M462.8 501.9h1.4M412.4 503.3h1.4M416.6 503.3h1.4M420.8 503.3h1.4M423.6 503.3h1.4M426.4 503.3h5.6M434.8 503.3h1.4M461.4 503.3h1.4M474 503.3h1.4M374.6 504.7h1.4M392.8 504.7h1.4M416.6 504.7h2.8M420.8 504.7h5.6M429.2 504.7h2.8M433.4 504.7h1.4M437.6 504.7h4.2M447.4 504.7h1.4M418 506.1h1.4M422.2 506.1h2.8M429.2 506.1h1.4M432 506.1h1.4M434.8 506.1h2.8M440.4 506.1h2.8M446 506.1h1.4M454.4 506.1h1.4M383 507.5h1.4M416.6 507.5h1.4M419.4 507.5h2.8M434.8 507.5h1.4M448.8 507.5h1.4M451.6 507.5h1.4M472.6 507.5h1.4M411 508.9h1.4M420.8 508.9h5.6M429.2 508.9h1.4M433.4 508.9h2.8M437.6 508.9h1.4M440.4 508.9h2.8M454.4 508.9h1.4M397 510.3h1.4M415.2 510.3h2.8M419.4 510.3h1.4M423.6 510.3h2.8M432 510.3h2.8M443.2 510.3h1.4M446 510.3h1.4M451.6 510.3h1.4M454.4 510.3h2.8M458.6 510.3h1.4M465.6 510.3h1.4M398.4 511.7h1.4M415.2 511.7h1.4M420.8 511.7h4.2M430.6 511.7h1.4M440.4 511.7h1.4M446 511.7h1.4M448.8 511.7h2.8M458.6 511.7h2.8M462.8 511.7h1.4M391.4 513.1h1.4M412.4 513.1h1.4M423.6 513.1h1.4M427.8 513.1h1.4M436.2 513.1h1.4M439 513.1h1.4M443.2 513.1h1.4M448.8 513.1h1.4M472.6 513.1h1.4M412.4 514.5h1.4M416.6 514.5h1.4M419.4 514.5h2.8M426.4 514.5h4.2M432 514.5h1.4M436.2 514.5h1.4M443.2 514.5h1.4M446 514.5h1.4M455.8 514.5h2.8M460 514.5h1.4M462.8 514.5h1.4M475.4 514.5h1.4M387.2 515.9h1.4M422.2 515.9h2.8M427.8 515.9h1.4M439 515.9h1.4M444.6 515.9h1.4M448.8 515.9h1.4M453 515.9h1.4M457.2 515.9h2.8M383 517.3h1.4M416.6 517.3h1.4M426.4 517.3h1.4M441.8 517.3h1.4M453 517.3h1.4M457.2 517.3h1.4M460 517.3h2.8M465.6 517.3h1.4M475.4 517.3h1.4M380.2 518.7h2.8M387.2 518.7h1.4M423.6 518.7h1.4M432 518.7h1.4M434.8 518.7h1.4M444.6 518.7h1.4M447.4 518.7h2.8M460 518.7h1.4M462.8 518.7h2.8M472.6 518.7h1.4M385.8 520.1h1.4M390 520.1h1.4M395.6 520.1h1.4M423.6 520.1h1.4M427.8 520.1h2.8M437.6 520.1h1.4M444.6 520.1h2.8M448.8 520.1h1.4M464.2 520.1h1.4M467 520.1h2.8M471.2 520.1h1.4M390 521.5h1.4M392.8 521.5h1.4M447.4 521.5h1.4M373.2 522.9h1.4M439 522.9h1.4M444.6 522.9h2.8M450.2 522.9h5.6M458.6 522.9h1.4M472.6 522.9h1.4M381.6 524.3h1.4M385.8 524.3h1.4M397 524.3h1.4M420.8 524.3h1.4M450.2 524.3h1.4M458.6 524.3h1.4M461.4 524.3h1.4M468.4 524.3h1.4M377.4 525.7h1.4M397 525.7h1.4M432 525.7h1.4M468.4 525.7h1.4M388.6 527.1h2.8M446 527.1h1.4M453 527.1h1.4M472.6 527.1h1.4M384.4 528.5h2.8M391.4 528.5h1.4M394.2 528.5h1.4M422.2 528.5h1.4M434.8 528.5h1.4M440.4 528.5h1.4M383 529.9h2.8M397 529.9h1.4M402.6 529.9h1.4M474 529.9h1.4M378.8 531.3h1.4M387.2 531.3h2.8M394.2 531.3h1.4M398.4 531.3h1.4M429.2 531.3h1.4M371.8 532.7h8.4M381.6 532.7h1.4M384.4 532.7h2.8M390 532.7h2.8M394.2 532.7h1.4M397 532.7h1.4M399.8 532.7h1.4M423.6 532.7h1.4M446 532.7h1.4M370.4 534.1h1.4M374.6 534.1h2.8M378.8 534.1h7M387.2 534.1h2.8M391.4 534.1h4.2M397 534.1h1.4M447.4 534.1h1.4M455.8 534.1h1.4M458.6 534.1h1.4M367.6 535.5h4.2M373.2 535.5h1.4M377.4 535.5h1.4M380.2 535.5h4.2M385.8 535.5h12.6M364.8 536.9h1.4M371.8 536.9h2.8M376 536.9h1.4M378.8 536.9h1.4M381.6 536.9h16.8M399.8 536.9h1.4M402.6 536.9h1.4M451.6 536.9h1.4M457.2 536.9h1.4M384.4 538.3h8.4M395.6 538.3h1.4M398.4 538.3h1.4M401.2 538.3h2.8M376 539.7h1.4M378.8 539.7h2.8M383 539.7h8.4M392.8 539.7h4.2M402.6 539.7h1.4M373.2 541.1h1.4M378.8 541.1h2.8M383 541.1h8.4M392.8 541.1h1.4M398.4 541.1h1.4M401.2 541.1h1.4M363.4 542.5h39.2M447.4 542.5h1.4M450.2 542.5h1.4M453 542.5h1.4M455.8 542.5h1.4M460 542.5h2.8M359.2 543.9h1.4M367.6 543.9h35M446 543.9h1.4M451.6 543.9h8.4M364.8 545.3h33.6M399.8 545.3h1.4M447.4 545.3h4.2M453 545.3h1.4M455.8 545.3h1.4M465.6 545.3h1.4M363.4 546.7h37.8M450.2 546.7h2.8M454.4 546.7h4.2M364.8 548.1h36.4M450.2 548.1h14M355 549.5h1.4M362 549.5h1.4M366.2 549.5h29.4M397 549.5h5.6M443.2 549.5h1.4M447.4 549.5h14M360.6 550.9h1.4M363.4 550.9h1.4M367.6 550.9h29.4M398.4 550.9h1.4M402.6 550.9h1.4M451.6 550.9h11.2M464.2 550.9h1.4M355 552.3h1.4M360.6 552.3h1.4M364.8 552.3h35M448.8 552.3h9.8M460 552.3h1.4M464.2 552.3h1.4M364.8 553.7h32.2M401.2 553.7h1.4M446 553.7h1.4M448.8 553.7h1.4M451.6 553.7h8.4M360.6 555.1h1.4M364.8 555.1h1.4M367.6 555.1h28M397 555.1h2.8M448.8 555.1h1.4M451.6 555.1h11.2M467 555.1h1.4M356.4 556.5h1.4M367.6 556.5h32.2M443.2 556.5h1.4M450.2 556.5h2.8M455.8 556.5h1.4M461.4 556.5h1.4M357.8 557.9h1.4M360.6 557.9h1.4M363.4 557.9h1.4M366.2 557.9h21M388.6 557.9h4.2M394.2 557.9h4.2M451.6 557.9h4.2M458.6 557.9h1.4M364.8 559.3h30.8M448.8 559.3h1.4M453 559.3h2.8M458.6 559.3h1.4M462.8 559.3h1.4M367.6 560.7h29.4M450.2 560.7h1.4M454.4 560.7h1.4M457.2 560.7h1.4M366.2 562.1h28M395.6 562.1h1.4M450.2 562.1h1.4M453 562.1h2.8M460 562.1h1.4M362 563.5h1.4M369 563.5h26.6M450.2 563.5h2.8M464.2 563.5h1.4M369 564.9h23.8M457.2 564.9h1.4M462.8 564.9h1.4M356.4 566.3h1.4M369 566.3h26.6M444.6 566.3h1.4M458.6 566.3h1.4M366.2 567.7h1.4M369 567.7h1.4M371.8 567.7h21M448.8 567.7h1.4M373.2 569.1h23.8M460 569.1h1.4M370.4 570.5h21M394.2 570.5h1.4M369 571.9h1.4M371.8 571.9h12.6M385.8 571.9h5.6M392.8 571.9h1.4M460 571.9h1.4M371.8 573.3h21M446 573.3h1.4M363.4 574.7h1.4M374.6 574.7h18.2M373.2 576.1h16.8M450.2 576.1h1.4M373.2 577.5h18.2M373.2 578.9h2.8M377.4 578.9h4.2M383 578.9h7" stroke="#8f8f8f" stroke-width="1.5" fill="none"/>
<rect x="353.6" y="457" width="154.39999999999998" height="123.29999999999995" fill="none" stroke="#141414" stroke-width="2"/>
<line x1="405.4" y1="457" x2="405.4" y2="580.3" stroke="#141414" stroke-width="2.3"/>
<line x1="353.6" y1="540.5" x2="508" y2="540.5" stroke="#141414" stroke-width="2.1"/>
<rect x="406.6" y="479.7" width="70.89999999999998" height="58.900000000000034" fill="none" stroke="#141414" stroke-width="2.2"/>
<g stroke="#141414" stroke-width="0.3">
<line x1="355.0" y1="580.3" x2="355.0" y2="587.6999999999999" stroke="#141414" stroke-width="1.7"/>
<line x1="346.6" y1="579.2" x2="353.6" y2="579.2" stroke="#141414" stroke-width="1.8"/>
<line x1="366.4" y1="580.3" x2="366.4" y2="585.3" stroke="#141414" stroke-width="1.6"/>
<line x1="349.8" y1="570.2" x2="353.6" y2="570.2" stroke="#141414" stroke-width="1.6"/>
<line x1="373.1" y1="580.3" x2="373.1" y2="585.3" stroke="#141414" stroke-width="1.6"/>
<line x1="349.8" y1="564.9" x2="353.6" y2="564.9" stroke="#141414" stroke-width="1.6"/>
<line x1="377.9" y1="580.3" x2="377.9" y2="585.3" stroke="#141414" stroke-width="1.6"/>
<line x1="349.8" y1="561.1" x2="353.6" y2="561.1" stroke="#141414" stroke-width="1.6"/>
<line x1="381.6" y1="580.3" x2="381.6" y2="585.3" stroke="#141414" stroke-width="1.6"/>
<line x1="349.8" y1="558.2" x2="353.6" y2="558.2" stroke="#141414" stroke-width="1.6"/>
<line x1="384.6" y1="580.3" x2="384.6" y2="585.3" stroke="#141414" stroke-width="1.6"/>
<line x1="349.8" y1="555.8" x2="353.6" y2="555.8" stroke="#141414" stroke-width="1.6"/>
<line x1="387.1" y1="580.3" x2="387.1" y2="585.3" stroke="#141414" stroke-width="1.6"/>
<line x1="349.8" y1="553.8" x2="353.6" y2="553.8" stroke="#141414" stroke-width="1.6"/>
<line x1="389.3" y1="580.3" x2="389.3" y2="585.3" stroke="#141414" stroke-width="1.6"/>
<line x1="349.8" y1="552.1" x2="353.6" y2="552.1" stroke="#141414" stroke-width="1.6"/>
<line x1="391.3" y1="580.3" x2="391.3" y2="585.3" stroke="#141414" stroke-width="1.6"/>
<line x1="349.8" y1="550.5" x2="353.6" y2="550.5" stroke="#141414" stroke-width="1.6"/>
<text x="355.9" y="603.5" font-size="12.2" text-anchor="end" fill="#141414">10</text>
<text x="357.1" y="597.5" font-size="13" fill="#141414">0</text>
<text transform="translate(341.0,588.9) rotate(-90)" font-size="12.2" fill="#141414">10</text>
<text transform="translate(335.0,572.8) rotate(-90)" font-size="13.5" fill="#141414">0</text>
<line x1="393.0" y1="580.3" x2="393.0" y2="587.6999999999999" stroke="#141414" stroke-width="1.7"/>
<line x1="346.6" y1="549.1500000000001" x2="353.6" y2="549.1500000000001" stroke="#141414" stroke-width="1.8"/>
<line x1="404.4" y1="580.3" x2="404.4" y2="585.3" stroke="#141414" stroke-width="1.6"/>
<line x1="349.8" y1="540.1" x2="353.6" y2="540.1" stroke="#141414" stroke-width="1.6"/>
<line x1="411.1" y1="580.3" x2="411.1" y2="585.3" stroke="#141414" stroke-width="1.6"/>
<line x1="349.8" y1="534.8" x2="353.6" y2="534.8" stroke="#141414" stroke-width="1.6"/>
<line x1="415.9" y1="580.3" x2="415.9" y2="585.3" stroke="#141414" stroke-width="1.6"/>
<line x1="349.8" y1="531.1" x2="353.6" y2="531.1" stroke="#141414" stroke-width="1.6"/>
<line x1="419.6" y1="580.3" x2="419.6" y2="585.3" stroke="#141414" stroke-width="1.6"/>
<line x1="349.8" y1="528.1" x2="353.6" y2="528.1" stroke="#141414" stroke-width="1.6"/>
<line x1="422.6" y1="580.3" x2="422.6" y2="585.3" stroke="#141414" stroke-width="1.6"/>
<line x1="349.8" y1="525.8" x2="353.6" y2="525.8" stroke="#141414" stroke-width="1.6"/>
<line x1="425.1" y1="580.3" x2="425.1" y2="585.3" stroke="#141414" stroke-width="1.6"/>
<line x1="349.8" y1="523.8" x2="353.6" y2="523.8" stroke="#141414" stroke-width="1.6"/>
<line x1="427.3" y1="580.3" x2="427.3" y2="585.3" stroke="#141414" stroke-width="1.6"/>
<line x1="349.8" y1="522.0" x2="353.6" y2="522.0" stroke="#141414" stroke-width="1.6"/>
<line x1="429.3" y1="580.3" x2="429.3" y2="585.3" stroke="#141414" stroke-width="1.6"/>
<line x1="349.8" y1="520.5" x2="353.6" y2="520.5" stroke="#141414" stroke-width="1.6"/>
<text x="393.9" y="603.5" font-size="12.2" text-anchor="end" fill="#141414">10</text>
<text x="395.1" y="597.5" font-size="13" fill="#141414">1</text>
<text transform="translate(341.0,558.9) rotate(-90)" font-size="12.2" fill="#141414">10</text>
<text transform="translate(335.0,542.8) rotate(-90)" font-size="13.5" fill="#141414">1</text>
<line x1="431.0" y1="580.3" x2="431.0" y2="587.6999999999999" stroke="#141414" stroke-width="1.7"/>
<line x1="346.6" y1="519.1" x2="353.6" y2="519.1" stroke="#141414" stroke-width="1.8"/>
<line x1="442.4" y1="580.3" x2="442.4" y2="585.3" stroke="#141414" stroke-width="1.6"/>
<line x1="349.8" y1="510.1" x2="353.6" y2="510.1" stroke="#141414" stroke-width="1.6"/>
<line x1="449.1" y1="580.3" x2="449.1" y2="585.3" stroke="#141414" stroke-width="1.6"/>
<line x1="349.8" y1="504.8" x2="353.6" y2="504.8" stroke="#141414" stroke-width="1.6"/>
<line x1="453.9" y1="580.3" x2="453.9" y2="585.3" stroke="#141414" stroke-width="1.6"/>
<line x1="349.8" y1="501.0" x2="353.6" y2="501.0" stroke="#141414" stroke-width="1.6"/>
<line x1="457.6" y1="580.3" x2="457.6" y2="585.3" stroke="#141414" stroke-width="1.6"/>
<line x1="349.8" y1="498.1" x2="353.6" y2="498.1" stroke="#141414" stroke-width="1.6"/>
<line x1="460.6" y1="580.3" x2="460.6" y2="585.3" stroke="#141414" stroke-width="1.6"/>
<line x1="349.8" y1="495.7" x2="353.6" y2="495.7" stroke="#141414" stroke-width="1.6"/>
<line x1="463.1" y1="580.3" x2="463.1" y2="585.3" stroke="#141414" stroke-width="1.6"/>
<line x1="349.8" y1="493.7" x2="353.6" y2="493.7" stroke="#141414" stroke-width="1.6"/>
<line x1="465.3" y1="580.3" x2="465.3" y2="585.3" stroke="#141414" stroke-width="1.6"/>
<line x1="349.8" y1="492.0" x2="353.6" y2="492.0" stroke="#141414" stroke-width="1.6"/>
<line x1="467.3" y1="580.3" x2="467.3" y2="585.3" stroke="#141414" stroke-width="1.6"/>
<line x1="349.8" y1="490.4" x2="353.6" y2="490.4" stroke="#141414" stroke-width="1.6"/>
<text x="431.9" y="603.5" font-size="12.2" text-anchor="end" fill="#141414">10</text>
<text x="433.1" y="597.5" font-size="13" fill="#141414">2</text>
<text transform="translate(341.0,528.8) rotate(-90)" font-size="12.2" fill="#141414">10</text>
<text transform="translate(335.0,512.7) rotate(-90)" font-size="13.5" fill="#141414">2</text>
<line x1="469.0" y1="580.3" x2="469.0" y2="587.6999999999999" stroke="#141414" stroke-width="1.7"/>
<line x1="346.6" y1="489.05" x2="353.6" y2="489.05" stroke="#141414" stroke-width="1.8"/>
<line x1="480.4" y1="580.3" x2="480.4" y2="585.3" stroke="#141414" stroke-width="1.6"/>
<line x1="349.8" y1="480.0" x2="353.6" y2="480.0" stroke="#141414" stroke-width="1.6"/>
<line x1="487.1" y1="580.3" x2="487.1" y2="585.3" stroke="#141414" stroke-width="1.6"/>
<line x1="349.8" y1="474.7" x2="353.6" y2="474.7" stroke="#141414" stroke-width="1.6"/>
<line x1="491.9" y1="580.3" x2="491.9" y2="585.3" stroke="#141414" stroke-width="1.6"/>
<line x1="349.8" y1="471.0" x2="353.6" y2="471.0" stroke="#141414" stroke-width="1.6"/>
<line x1="495.6" y1="580.3" x2="495.6" y2="585.3" stroke="#141414" stroke-width="1.6"/>
<line x1="349.8" y1="468.0" x2="353.6" y2="468.0" stroke="#141414" stroke-width="1.6"/>
<line x1="498.6" y1="580.3" x2="498.6" y2="585.3" stroke="#141414" stroke-width="1.6"/>
<line x1="349.8" y1="465.7" x2="353.6" y2="465.7" stroke="#141414" stroke-width="1.6"/>
<line x1="501.1" y1="580.3" x2="501.1" y2="585.3" stroke="#141414" stroke-width="1.6"/>
<line x1="349.8" y1="463.7" x2="353.6" y2="463.7" stroke="#141414" stroke-width="1.6"/>
<line x1="503.3" y1="580.3" x2="503.3" y2="585.3" stroke="#141414" stroke-width="1.6"/>
<line x1="349.8" y1="461.9" x2="353.6" y2="461.9" stroke="#141414" stroke-width="1.6"/>
<line x1="505.3" y1="580.3" x2="505.3" y2="585.3" stroke="#141414" stroke-width="1.6"/>
<line x1="349.8" y1="460.4" x2="353.6" y2="460.4" stroke="#141414" stroke-width="1.6"/>
<text x="469.9" y="603.5" font-size="12.2" text-anchor="end" fill="#141414">10</text>
<text x="471.1" y="597.5" font-size="13" fill="#141414">3</text>
<text transform="translate(341.0,498.8) rotate(-90)" font-size="12.2" fill="#141414">10</text>
<text transform="translate(335.0,482.7) rotate(-90)" font-size="13.5" fill="#141414">3</text>
<line x1="507.0" y1="580.3" x2="507.0" y2="587.6999999999999" stroke="#141414" stroke-width="1.7"/>
<line x1="346.6" y1="459.0" x2="353.6" y2="459.0" stroke="#141414" stroke-width="1.8"/>
<text x="507.9" y="603.5" font-size="12.2" text-anchor="end" fill="#141414">10</text>
<text x="509.1" y="597.5" font-size="13" fill="#141414">4</text>
<text transform="translate(341.0,468.7) rotate(-90)" font-size="12.2" fill="#141414">10</text>
<text transform="translate(335.0,452.6) rotate(-90)" font-size="13.5" fill="#141414">4</text>
<text x="414.1" y="617.1999999999999" font-size="12.8" text-anchor="start" textLength="26.3" lengthAdjust="spacingAndGlyphs" fill="#141414" >GFP</text>
<text transform="translate(321.9,520.8) rotate(-90)" font-size="12" text-anchor="middle" textLength="48.6" lengthAdjust="spacingAndGlyphs" fill="#141414">CD3 PE</text>
</g>
<text x="506" y="473.8" font-size="13.8" font-weight="bold" text-anchor="end" fill="#141414" >58.7</text>
<text x="506.5" y="555" font-size="13.8" font-weight="bold" text-anchor="end" fill="#141414" >41.3</text>
<path d="M388.8 682.7h1.4M391.6 684.1h1.4M394.4 686.9h1.4M386 689.7h1.4M391.6 689.7h1.4M408.4 691.1h1.4M446.2 691.1h1.4M426.6 692.5h1.4M384.6 693.9h1.4M470 693.9h1.4M430.8 695.3h1.4M386 696.7h1.4M391.6 696.7h1.4M423.8 698.1h1.4M432.2 698.1h1.4M383.2 699.5h1.4M397.2 699.5h1.4M419.6 699.5h1.4M458.8 699.5h1.4M380.4 700.9h1.4M388.8 700.9h2.8M393 700.9h1.4M407 700.9h1.4M383.2 702.3h1.4M386 702.3h4.2M395.8 702.3h1.4M418.2 702.3h1.4M425.2 702.3h1.4M384.6 703.7h1.4M390.2 703.7h1.4M387.4 705.1h1.4M391.6 705.1h1.4M405.6 705.1h1.4M437.8 705.1h1.4M447.6 705.1h1.4M388.8 706.5h1.4M394.4 706.5h1.4M408.4 706.5h1.4M430.8 706.5h1.4M435 706.5h1.4M391.6 707.9h1.4M395.8 707.9h1.4M401.4 707.9h1.4M409.8 707.9h1.4M426.6 707.9h1.4M388.8 709.3h2.8M395.8 709.3h1.4M405.6 709.3h1.4M415.4 709.3h1.4M437.8 709.3h1.4M461.6 709.3h1.4M381.8 710.7h1.4M388.8 710.7h1.4M393 710.7h1.4M401.4 710.7h1.4M404.2 710.7h1.4M409.8 710.7h1.4M416.8 710.7h2.8M433.6 710.7h1.4M447.6 710.7h1.4M380.4 712.1h1.4M383.2 712.1h2.8M388.8 712.1h2.8M393 712.1h2.8M397.2 712.1h1.4M400 712.1h1.4M404.2 712.1h1.4M408.4 712.1h4.2M414 712.1h2.8M374.8 713.5h1.4M381.8 713.5h1.4M384.6 713.5h15.4M402.8 713.5h2.8M408.4 713.5h4.2M421 713.5h1.4M425.2 713.5h1.4M458.8 713.5h1.4M367.8 714.9h1.4M373.4 714.9h1.4M377.6 714.9h1.4M380.4 714.9h4.2M386 714.9h16.8M408.4 714.9h2.8M412.6 714.9h1.4M430.8 714.9h1.4M367.8 716.3h1.4M377.6 716.3h1.4M380.4 716.3h1.4M383.2 716.3h1.4M386 716.3h16.8M404.2 716.3h1.4M407 716.3h2.8M414 716.3h2.8M454.6 716.3h2.8M460.2 716.3h1.4M379 717.7h1.4M381.8 717.7h1.4M384.6 717.7h16.8M404.2 717.7h1.4M408.4 717.7h1.4M411.2 717.7h4.2M449 717.7h1.4M453.2 717.7h4.2M460.2 717.7h2.8M464.4 717.7h2.8M372 719.1h1.4M376.2 719.1h1.4M379 719.1h1.4M386 719.1h12.6M401.4 719.1h1.4M404.2 719.1h1.4M409.8 719.1h4.2M428 719.1h1.4M442 719.1h1.4M449 719.1h1.4M457.4 719.1h1.4M460.2 719.1h1.4M384.6 720.5h18.2M414 720.5h1.4M416.8 720.5h1.4M429.4 720.5h1.4M456 720.5h1.4M461.6 720.5h1.4M468.6 720.5h2.8M369.2 721.9h1.4M373.4 721.9h32.2M436.4 721.9h1.4M443.4 721.9h1.4M446.2 721.9h12.6M460.2 721.9h1.4M465.8 721.9h1.4M356.6 723.3h1.4M363.6 723.3h1.4M367.8 723.3h1.4M372 723.3h30.8M404.2 723.3h1.4M408.4 723.3h1.4M416.8 723.3h1.4M425.2 723.3h1.4M437.8 723.3h1.4M451.8 723.3h5.6M458.8 723.3h1.4M461.6 723.3h2.8M474.2 723.3h1.4M366.4 724.7h1.4M369.2 724.7h32.2M402.8 724.7h1.4M421 724.7h1.4M423.8 724.7h1.4M426.6 724.7h1.4M430.8 724.7h2.8M436.4 724.7h1.4M444.8 724.7h1.4M447.6 724.7h1.4M450.4 724.7h12.6M464.4 724.7h2.8M369.2 726.1h32.2M402.8 726.1h1.4M415.4 726.1h1.4M421 726.1h7M430.8 726.1h5.6M444.8 726.1h1.4M449 726.1h1.4M451.8 726.1h12.6M369.2 727.5h30.8M401.4 727.5h2.8M408.4 727.5h8.4M422.4 727.5h5.6M429.4 727.5h2.8M433.6 727.5h1.4M436.4 727.5h1.4M440.6 727.5h1.4M443.4 727.5h1.4M446.2 727.5h1.4M450.4 727.5h12.6M464.4 727.5h2.8M370.6 728.9h32.2M414 728.9h1.4M416.8 728.9h12.6M430.8 728.9h1.4M436.4 728.9h1.4M442 728.9h2.8M449 728.9h12.6M463 728.9h1.4M474.2 728.9h1.4M355.2 730.3h1.4M366.4 730.3h36.4M408.4 730.3h1.4M412.6 730.3h5.6M421 730.3h2.8M425.2 730.3h2.8M429.4 730.3h1.4M435 730.3h7M443.4 730.3h2.8M449 730.3h15.4M365 731.7h39.2M412.6 731.7h2.8M416.8 731.7h7M426.6 731.7h2.8M432.2 731.7h1.4M444.8 731.7h8.4M454.6 731.7h7M467.2 731.7h1.4M362.2 733.1h1.4M365 733.1h1.4M367.8 733.1h32.2M401.4 733.1h1.4M404.2 733.1h1.4M409.8 733.1h1.4M414 733.1h2.8M421 733.1h12.6M435 733.1h1.4M437.8 733.1h1.4M442 733.1h1.4M444.8 733.1h1.4M449 733.1h9.8M465.8 733.1h1.4M358 734.5h1.4M360.8 734.5h2.8M365 734.5h35M402.8 734.5h1.4M409.8 734.5h1.4M412.6 734.5h1.4M415.4 734.5h9.8M428 734.5h4.2M435 734.5h1.4M437.8 734.5h2.8M458.8 734.5h1.4M461.6 734.5h1.4M464.4 734.5h4.2M358 735.9h1.4M366.4 735.9h36.4M409.8 735.9h1.4M415.4 735.9h4.2M422.4 735.9h1.4M425.2 735.9h1.4M428 735.9h1.4M436.4 735.9h1.4M444.8 735.9h1.4M453.2 735.9h2.8M457.4 735.9h4.2M463 735.9h1.4M467.2 735.9h1.4M358 737.3h1.4M363.6 737.3h1.4M367.8 737.3h32.2M408.4 737.3h7M418.2 737.3h2.8M422.4 737.3h1.4M425.2 737.3h1.4M432.2 737.3h1.4M435 737.3h1.4M449 737.3h1.4M451.8 737.3h2.8M456 737.3h1.4M362.2 738.7h1.4M367.8 738.7h1.4M372 738.7h25.2M398.6 738.7h4.2M419.6 738.7h2.8M425.2 738.7h1.4M432.2 738.7h1.4M435 738.7h1.4M437.8 738.7h1.4M446.2 738.7h1.4M450.4 738.7h2.8M456 738.7h1.4M358 740.1h1.4M360.8 740.1h1.4M365 740.1h2.8M370.6 740.1h29.4M412.6 740.1h1.4M415.4 740.1h2.8M419.6 740.1h1.4M422.4 740.1h2.8M426.6 740.1h1.4M430.8 740.1h1.4M433.6 740.1h1.4M447.6 740.1h2.8M451.8 740.1h1.4M454.6 740.1h1.4M457.4 740.1h1.4M460.2 740.1h1.4M464.4 740.1h1.4M359.4 741.5h1.4M362.2 741.5h1.4M367.8 741.5h32.2M419.6 741.5h1.4M422.4 741.5h1.4M428 741.5h1.4M436.4 741.5h1.4M446.2 741.5h1.4M449 741.5h1.4M451.8 741.5h1.4M456 741.5h1.4M460.2 741.5h1.4M359.4 742.9h1.4M362.2 742.9h1.4M366.4 742.9h1.4M369.2 742.9h2.8M374.8 742.9h26.6M409.8 742.9h1.4M451.8 742.9h1.4M456 742.9h2.8M461.6 742.9h1.4M465.8 742.9h1.4M358 744.3h1.4M360.8 744.3h1.4M363.6 744.3h1.4M367.8 744.3h1.4M370.6 744.3h1.4M374.8 744.3h23.8M415.4 744.3h1.4M421 744.3h1.4M425.2 744.3h1.4M430.8 744.3h1.4M447.6 744.3h1.4M458.8 744.3h1.4M468.6 744.3h1.4M366.4 745.7h1.4M373.4 745.7h2.8M377.6 745.7h21M400 745.7h1.4M408.4 745.7h2.8M421 745.7h1.4M425.2 745.7h1.4M451.8 745.7h2.8M362.2 747.1h2.8M367.8 747.1h1.4M370.6 747.1h1.4M374.8 747.1h19.6M397.2 747.1h2.8M422.4 747.1h1.4M426.6 747.1h1.4M430.8 747.1h1.4M442 747.1h1.4M474.2 747.1h1.4M358 748.5h1.4M372 748.5h4.2M377.6 748.5h15.4M394.4 748.5h2.8M398.6 748.5h1.4M422.4 748.5h1.4M428 748.5h2.8M440.6 748.5h2.8M453.2 748.5h2.8M366.4 749.9h1.4M374.8 749.9h1.4M377.6 749.9h18.2M419.6 749.9h1.4M363.6 751.3h1.4M369.2 751.3h1.4M373.4 751.3h1.4M377.6 751.3h9.8M388.8 751.3h5.6M407 751.3h1.4M456 751.3h1.4M365 752.7h1.4M376.2 752.7h1.4M379 752.7h16.8M425.2 752.7h1.4M362.2 754.1h1.4M379 754.1h14M428 754.1h1.4M460.2 754.1h1.4M376.2 755.5h1.4M379 755.5h14M397.2 755.5h1.4M468.6 755.5h1.4M376.2 756.9h1.4M380.4 756.9h5.6M387.4 756.9h1.4M454.6 756.9h1.4" stroke="#8f8f8f" stroke-width="1.5" fill="none"/>
<rect x="354" y="639.6" width="154" height="119.60000000000002" fill="none" stroke="#141414" stroke-width="2"/>
<line x1="405.7" y1="639.6" x2="405.7" y2="759.2" stroke="#141414" stroke-width="2.3"/>
<line x1="354" y1="720.3" x2="508" y2="720.3" stroke="#141414" stroke-width="2.1"/>
<rect x="405.7" y="679" width="72.10000000000002" height="41.299999999999955" fill="none" stroke="#141414" stroke-width="1.9"/>
<ellipse cx="424.4" cy="740.8" rx="18" ry="19.4" fill="none" stroke="#141414" stroke-width="1.2"/>
<ellipse cx="457" cy="736.8" rx="17" ry="22.6" fill="none" stroke="#141414" stroke-width="1.2"/>
<g stroke="#141414" stroke-width="0.3">
<line x1="355.2" y1="759.2" x2="355.2" y2="766.6" stroke="#141414" stroke-width="1.7"/>
<line x1="347" y1="757.9" x2="354" y2="757.9" stroke="#141414" stroke-width="1.8"/>
<line x1="366.5" y1="759.2" x2="366.5" y2="764.2" stroke="#141414" stroke-width="1.6"/>
<line x1="350.2" y1="749.1" x2="354" y2="749.1" stroke="#141414" stroke-width="1.6"/>
<line x1="373.1" y1="759.2" x2="373.1" y2="764.2" stroke="#141414" stroke-width="1.6"/>
<line x1="350.2" y1="743.9" x2="354" y2="743.9" stroke="#141414" stroke-width="1.6"/>
<line x1="377.8" y1="759.2" x2="377.8" y2="764.2" stroke="#141414" stroke-width="1.6"/>
<line x1="350.2" y1="740.2" x2="354" y2="740.2" stroke="#141414" stroke-width="1.6"/>
<line x1="381.5" y1="759.2" x2="381.5" y2="764.2" stroke="#141414" stroke-width="1.6"/>
<line x1="350.2" y1="737.4" x2="354" y2="737.4" stroke="#141414" stroke-width="1.6"/>
<line x1="384.4" y1="759.2" x2="384.4" y2="764.2" stroke="#141414" stroke-width="1.6"/>
<line x1="350.2" y1="735.1" x2="354" y2="735.1" stroke="#141414" stroke-width="1.6"/>
<line x1="387.0" y1="759.2" x2="387.0" y2="764.2" stroke="#141414" stroke-width="1.6"/>
<line x1="350.2" y1="733.1" x2="354" y2="733.1" stroke="#141414" stroke-width="1.6"/>
<line x1="389.1" y1="759.2" x2="389.1" y2="764.2" stroke="#141414" stroke-width="1.6"/>
<line x1="350.2" y1="731.4" x2="354" y2="731.4" stroke="#141414" stroke-width="1.6"/>
<line x1="391.1" y1="759.2" x2="391.1" y2="764.2" stroke="#141414" stroke-width="1.6"/>
<line x1="350.2" y1="729.9" x2="354" y2="729.9" stroke="#141414" stroke-width="1.6"/>
<text x="356.1" y="782.4" font-size="12.2" text-anchor="end" fill="#141414">10</text>
<text x="357.3" y="776.4" font-size="13" fill="#141414">0</text>
<text transform="translate(341.3,767.6) rotate(-90)" font-size="12.2" fill="#141414">10</text>
<text transform="translate(335.3,751.5) rotate(-90)" font-size="13.5" fill="#141414">0</text>
<line x1="392.775" y1="759.2" x2="392.775" y2="766.6" stroke="#141414" stroke-width="1.7"/>
<line x1="347" y1="728.55" x2="354" y2="728.55" stroke="#141414" stroke-width="1.8"/>
<line x1="404.1" y1="759.2" x2="404.1" y2="764.2" stroke="#141414" stroke-width="1.6"/>
<line x1="350.2" y1="719.7" x2="354" y2="719.7" stroke="#141414" stroke-width="1.6"/>
<line x1="410.7" y1="759.2" x2="410.7" y2="764.2" stroke="#141414" stroke-width="1.6"/>
<line x1="350.2" y1="714.5" x2="354" y2="714.5" stroke="#141414" stroke-width="1.6"/>
<line x1="415.4" y1="759.2" x2="415.4" y2="764.2" stroke="#141414" stroke-width="1.6"/>
<line x1="350.2" y1="710.9" x2="354" y2="710.9" stroke="#141414" stroke-width="1.6"/>
<line x1="419.0" y1="759.2" x2="419.0" y2="764.2" stroke="#141414" stroke-width="1.6"/>
<line x1="350.2" y1="708.0" x2="354" y2="708.0" stroke="#141414" stroke-width="1.6"/>
<line x1="422.0" y1="759.2" x2="422.0" y2="764.2" stroke="#141414" stroke-width="1.6"/>
<line x1="350.2" y1="705.7" x2="354" y2="705.7" stroke="#141414" stroke-width="1.6"/>
<line x1="424.5" y1="759.2" x2="424.5" y2="764.2" stroke="#141414" stroke-width="1.6"/>
<line x1="350.2" y1="703.7" x2="354" y2="703.7" stroke="#141414" stroke-width="1.6"/>
<line x1="426.7" y1="759.2" x2="426.7" y2="764.2" stroke="#141414" stroke-width="1.6"/>
<line x1="350.2" y1="702.0" x2="354" y2="702.0" stroke="#141414" stroke-width="1.6"/>
<line x1="428.6" y1="759.2" x2="428.6" y2="764.2" stroke="#141414" stroke-width="1.6"/>
<line x1="350.2" y1="700.5" x2="354" y2="700.5" stroke="#141414" stroke-width="1.6"/>
<text x="393.7" y="782.4" font-size="12.2" text-anchor="end" fill="#141414">10</text>
<text x="394.9" y="776.4" font-size="13" fill="#141414">1</text>
<text transform="translate(341.3,738.2) rotate(-90)" font-size="12.2" fill="#141414">10</text>
<text transform="translate(335.3,722.1) rotate(-90)" font-size="13.5" fill="#141414">1</text>
<line x1="430.35" y1="759.2" x2="430.35" y2="766.6" stroke="#141414" stroke-width="1.7"/>
<line x1="347" y1="699.2" x2="354" y2="699.2" stroke="#141414" stroke-width="1.8"/>
<line x1="441.7" y1="759.2" x2="441.7" y2="764.2" stroke="#141414" stroke-width="1.6"/>
<line x1="350.2" y1="690.4" x2="354" y2="690.4" stroke="#141414" stroke-width="1.6"/>
<line x1="448.3" y1="759.2" x2="448.3" y2="764.2" stroke="#141414" stroke-width="1.6"/>
<line x1="350.2" y1="685.2" x2="354" y2="685.2" stroke="#141414" stroke-width="1.6"/>
<line x1="453.0" y1="759.2" x2="453.0" y2="764.2" stroke="#141414" stroke-width="1.6"/>
<line x1="350.2" y1="681.5" x2="354" y2="681.5" stroke="#141414" stroke-width="1.6"/>
<line x1="456.6" y1="759.2" x2="456.6" y2="764.2" stroke="#141414" stroke-width="1.6"/>
<line x1="350.2" y1="678.7" x2="354" y2="678.7" stroke="#141414" stroke-width="1.6"/>
<line x1="459.6" y1="759.2" x2="459.6" y2="764.2" stroke="#141414" stroke-width="1.6"/>
<line x1="350.2" y1="676.4" x2="354" y2="676.4" stroke="#141414" stroke-width="1.6"/>
<line x1="462.1" y1="759.2" x2="462.1" y2="764.2" stroke="#141414" stroke-width="1.6"/>
<line x1="350.2" y1="674.4" x2="354" y2="674.4" stroke="#141414" stroke-width="1.6"/>
<line x1="464.3" y1="759.2" x2="464.3" y2="764.2" stroke="#141414" stroke-width="1.6"/>
<line x1="350.2" y1="672.7" x2="354" y2="672.7" stroke="#141414" stroke-width="1.6"/>
<line x1="466.2" y1="759.2" x2="466.2" y2="764.2" stroke="#141414" stroke-width="1.6"/>
<line x1="350.2" y1="671.2" x2="354" y2="671.2" stroke="#141414" stroke-width="1.6"/>
<text x="431.2" y="782.4" font-size="12.2" text-anchor="end" fill="#141414">10</text>
<text x="432.5" y="776.4" font-size="13" fill="#141414">2</text>
<text transform="translate(341.3,708.9) rotate(-90)" font-size="12.2" fill="#141414">10</text>
<text transform="translate(335.3,692.8) rotate(-90)" font-size="13.5" fill="#141414">2</text>
<line x1="467.925" y1="759.2" x2="467.925" y2="766.6" stroke="#141414" stroke-width="1.7"/>
<line x1="347" y1="669.85" x2="354" y2="669.85" stroke="#141414" stroke-width="1.8"/>
<line x1="479.2" y1="759.2" x2="479.2" y2="764.2" stroke="#141414" stroke-width="1.6"/>
<line x1="350.2" y1="661.0" x2="354" y2="661.0" stroke="#141414" stroke-width="1.6"/>
<line x1="485.9" y1="759.2" x2="485.9" y2="764.2" stroke="#141414" stroke-width="1.6"/>
<line x1="350.2" y1="655.8" x2="354" y2="655.8" stroke="#141414" stroke-width="1.6"/>
<line x1="490.5" y1="759.2" x2="490.5" y2="764.2" stroke="#141414" stroke-width="1.6"/>
<line x1="350.2" y1="652.2" x2="354" y2="652.2" stroke="#141414" stroke-width="1.6"/>
<line x1="494.2" y1="759.2" x2="494.2" y2="764.2" stroke="#141414" stroke-width="1.6"/>
<line x1="350.2" y1="649.3" x2="354" y2="649.3" stroke="#141414" stroke-width="1.6"/>
<line x1="497.2" y1="759.2" x2="497.2" y2="764.2" stroke="#141414" stroke-width="1.6"/>
<line x1="350.2" y1="647.0" x2="354" y2="647.0" stroke="#141414" stroke-width="1.6"/>
<line x1="499.7" y1="759.2" x2="499.7" y2="764.2" stroke="#141414" stroke-width="1.6"/>
<line x1="350.2" y1="645.0" x2="354" y2="645.0" stroke="#141414" stroke-width="1.6"/>
<line x1="501.9" y1="759.2" x2="501.9" y2="764.2" stroke="#141414" stroke-width="1.6"/>
<line x1="350.2" y1="643.3" x2="354" y2="643.3" stroke="#141414" stroke-width="1.6"/>
<line x1="503.8" y1="759.2" x2="503.8" y2="764.2" stroke="#141414" stroke-width="1.6"/>
<line x1="350.2" y1="641.8" x2="354" y2="641.8" stroke="#141414" stroke-width="1.6"/>
<text x="468.8" y="782.4" font-size="12.2" text-anchor="end" fill="#141414">10</text>
<text x="470.0" y="776.4" font-size="13" fill="#141414">3</text>
<text transform="translate(341.3,679.6) rotate(-90)" font-size="12.2" fill="#141414">10</text>
<text transform="translate(335.3,663.5) rotate(-90)" font-size="13.5" fill="#141414">3</text>
<line x1="505.5" y1="759.2" x2="505.5" y2="766.6" stroke="#141414" stroke-width="1.7"/>
<line x1="347" y1="640.5" x2="354" y2="640.5" stroke="#141414" stroke-width="1.8"/>
<text x="506.4" y="782.4" font-size="12.2" text-anchor="end" fill="#141414">10</text>
<text x="507.6" y="776.4" font-size="13" fill="#141414">4</text>
<text transform="translate(341.3,650.2) rotate(-90)" font-size="12.2" fill="#141414">10</text>
<text transform="translate(335.3,634.1) rotate(-90)" font-size="13.5" fill="#141414">4</text>
<text x="414.3" y="796.1" font-size="12.8" text-anchor="start" textLength="26.3" lengthAdjust="spacingAndGlyphs" fill="#141414" >GFP</text>
<text transform="translate(323.2,699.9) rotate(-90)" font-size="12" text-anchor="middle" textLength="53.8" lengthAdjust="spacingAndGlyphs" fill="#141414">B220 PE</text>
</g>
<text x="501" y="654.8" font-size="13.8" font-weight="bold" text-anchor="end" fill="#141414" >11.2</text>
<text x="436.2" y="754.8" font-size="13.8" font-weight="bold" text-anchor="end" fill="#141414" >36</text>
<text x="465.4" y="754.8" font-size="13.8" font-weight="bold" text-anchor="end" fill="#141414" >54</text>
</svg></body></html>
